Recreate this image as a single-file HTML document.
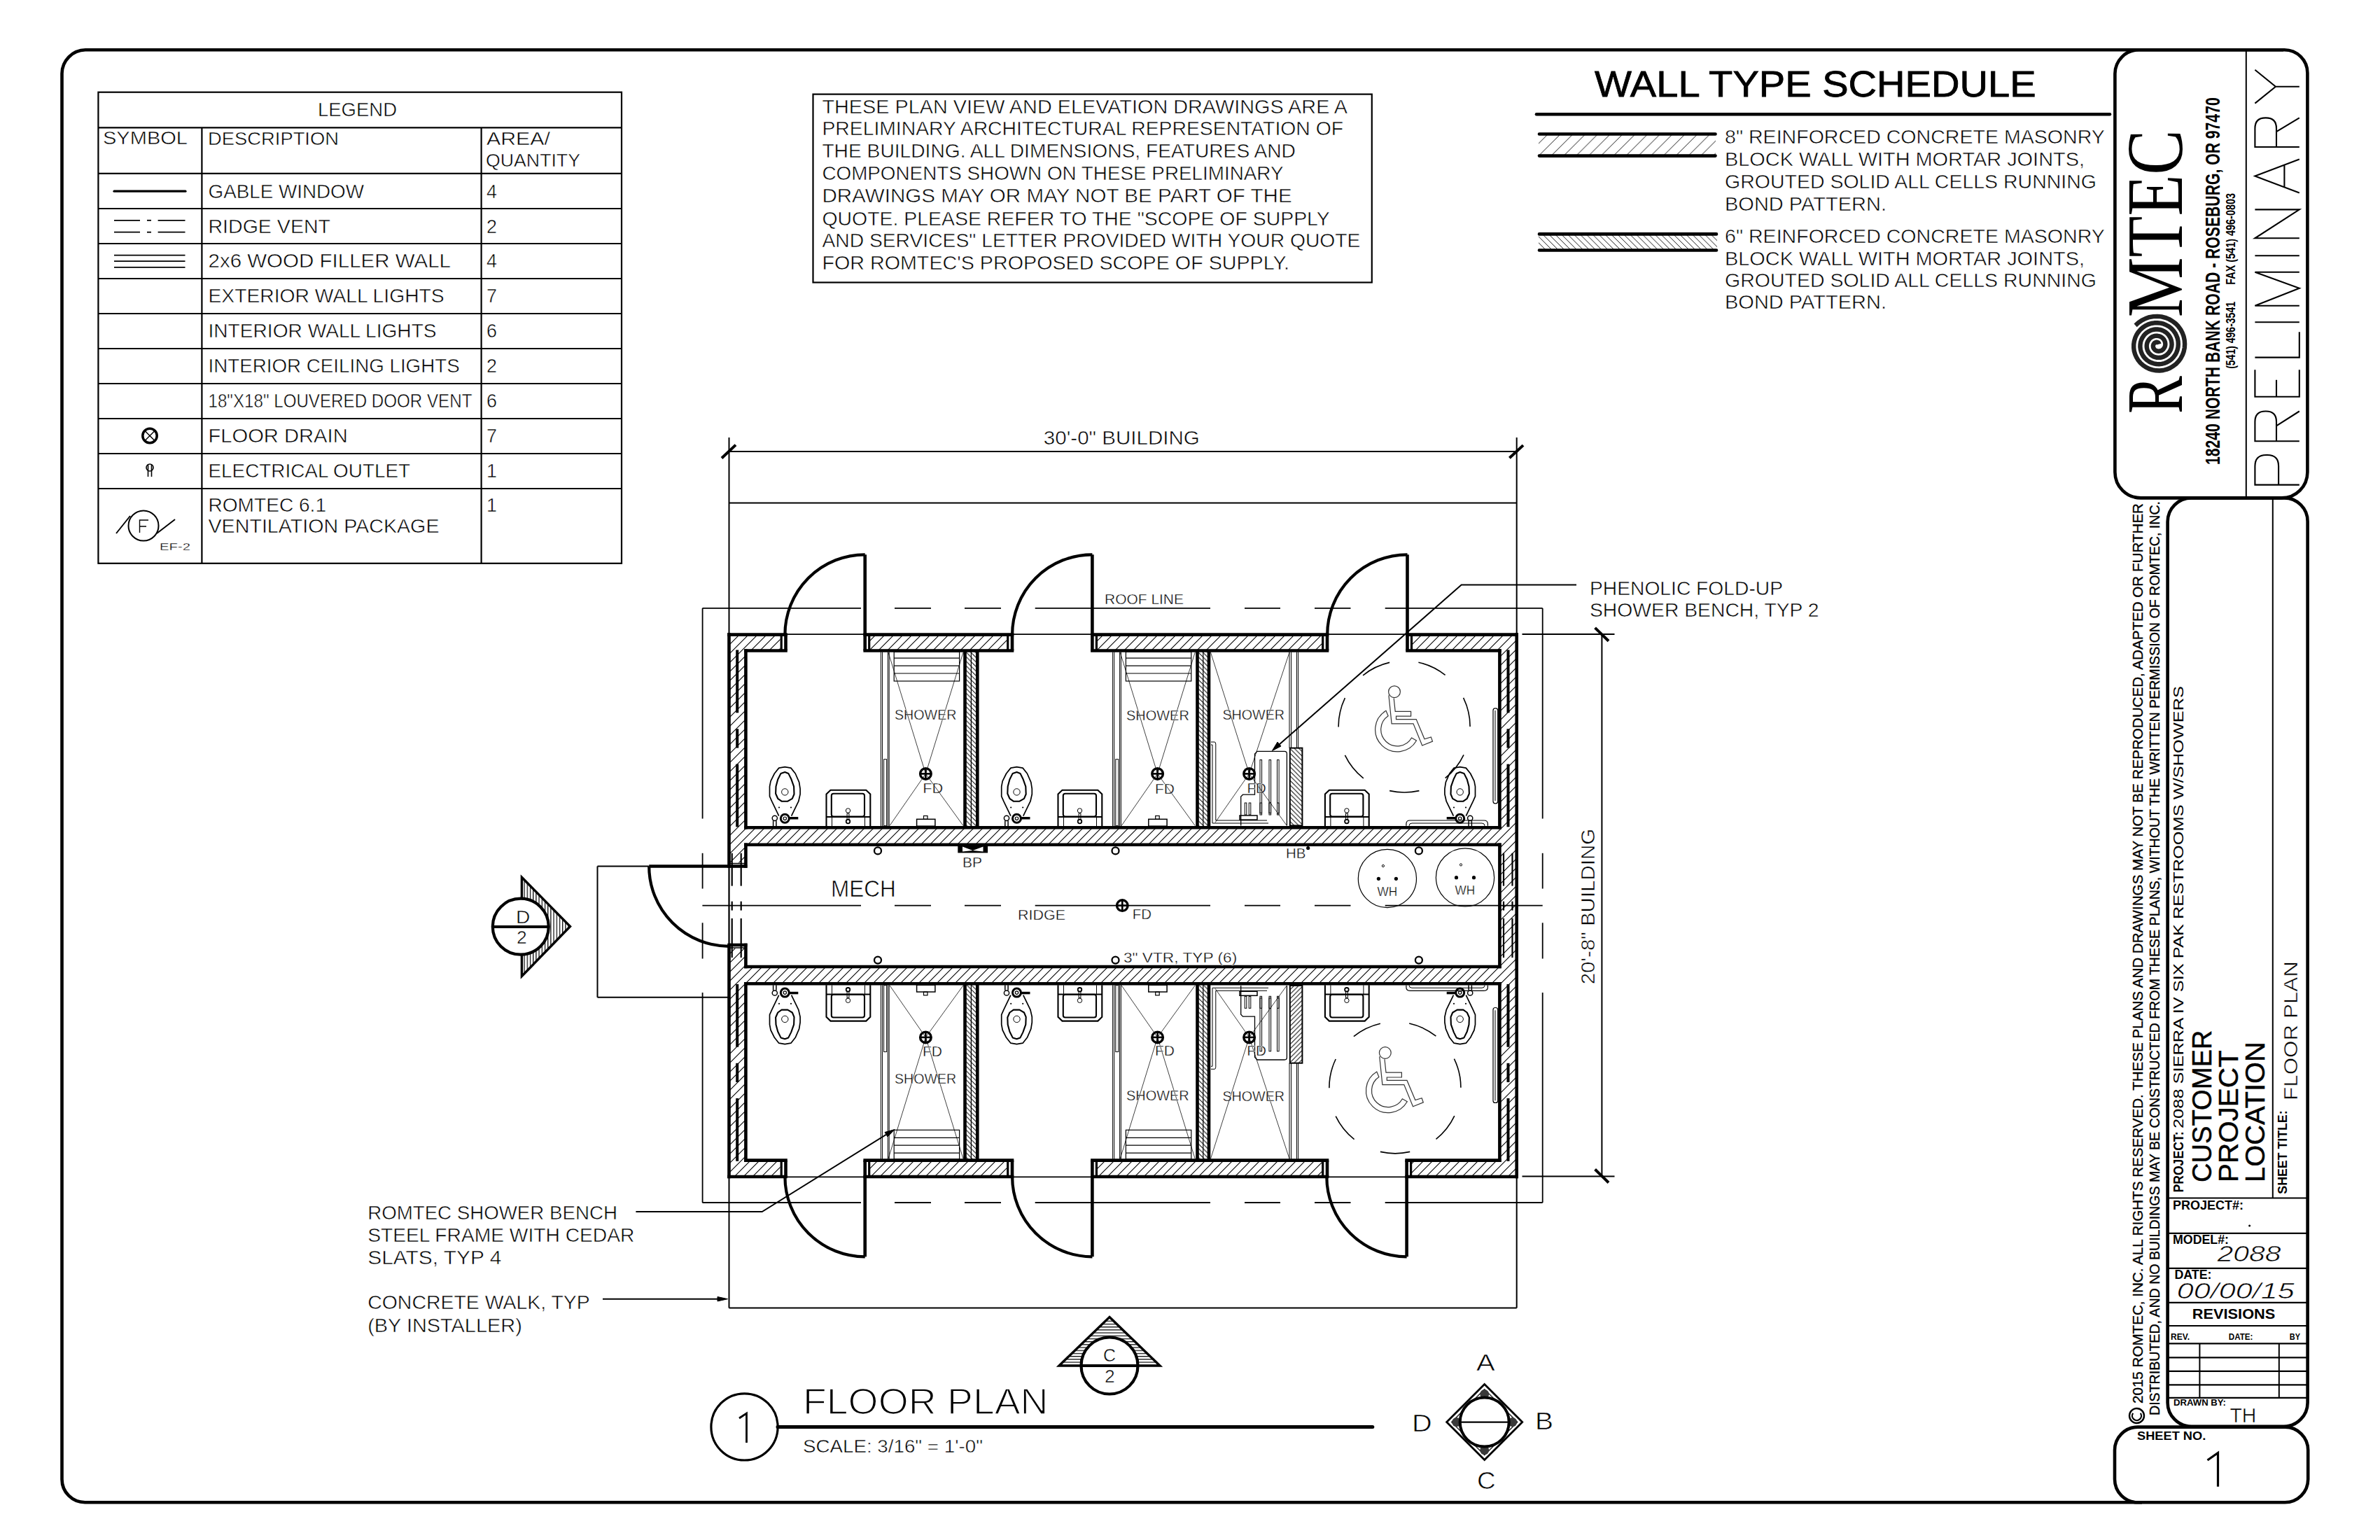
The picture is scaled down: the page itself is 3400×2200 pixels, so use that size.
<!DOCTYPE html>
<html><head><meta charset="utf-8"><title>Floor Plan</title>
<style>html,body{margin:0;padding:0;background:#fff;width:3400px;height:2200px;overflow:hidden}
text{stroke:none;fill:#000}svg{display:block;font-family:"Liberation Sans",sans-serif}</style></head>
<body><svg width="3400" height="2200" viewBox="0 0 3400 2200">
<defs>
<pattern id="h8" patternUnits="userSpaceOnUse" width="17.8" height="17.8">
<path d="M-1 18.8 L18.8 -1 M-1 1 L1 -1 M16.8 18.8 L18.8 16.8" stroke="#000" stroke-width="0.9"/></pattern>
<pattern id="h6" patternUnits="userSpaceOnUse" width="8.9" height="8.9">
<path d="M-1 -1 L9.9 9.9 M-1 7.9 L1 9.9 M7.9 -1 L9.9 1" stroke="#000" stroke-width="0.9"/></pattern>
<pattern id="hw" patternUnits="userSpaceOnUse" width="13" height="13">
<path d="M-1 14 L14 -1 M-1 1 L1 -1 M12 14 L14 12" stroke="#000" stroke-width="1.1"/></pattern>
<pattern id="hp" patternUnits="userSpaceOnUse" width="6.5" height="6.5">
<path d="M-1 -1 L7.5 7.5 M-1 5.5 L1 7.5 M5.5 -1 L7.5 1" stroke="#000" stroke-width="1"/></pattern>
<pattern id="hv" patternUnits="userSpaceOnUse" width="4.2" height="10">
<path d="M1.5 0 L1.5 10" stroke="#000" stroke-width="1.2"/></pattern>
<pattern id="hh" patternUnits="userSpaceOnUse" width="10" height="4.2">
<path d="M0 1.5 L10 1.5" stroke="#000" stroke-width="1.2"/></pattern>
</defs>
<rect x="0" y="0" width="3400" height="2200" fill="#fff"/>
<g stroke="#000" fill="none" stroke-linecap="butt">
<g class="t" stroke="none" fill="#000">
</g>
<path d="M3262 71.3 L122 71.3 A34 34 0 0 0 88.5 105 L88.5 2113 A33 33 0 0 0 122 2146.3 L3060 2146.3" stroke-width="4.6" fill="none"/>
<path d="M3055.4 71.3 L3263.4 71.3 A33 33 0 0 1 3296.4 104.3 L3296.4 674.4 A37 37 0 0 1 3259.4 711.4 L3058.4 711.4 A37 37 0 0 1 3021.4 674.4 L3021.4 105.3 A34 34 0 0 1 3055.4 71.3 Z" stroke-width="4.6" fill="none"/>
<line x1="3208.8" y1="71.3" x2="3208.8" y2="711.4" stroke-width="2"/>
<path d="M3130.6 711.4 L3263.1 711.4 A33.5 33.5 0 0 1 3296.6 744.9 L3296.6 2003.7 A34 34 0 0 1 3262.6 2037.7 L3130.6 2037.7 A34 34 0 0 1 3096.6 2003.7 L3096.6 745.4 A34 34 0 0 1 3130.6 711.4 Z" stroke-width="4.6" fill="none"/>
<path d="M3054.0 2038.6 L3264.2 2038.6 A33 33 0 0 1 3297.2 2071.6 L3297.2 2113.3 A33 33 0 0 1 3264.2 2146.3 L3054.0 2146.3 A33 33 0 0 1 3021.0 2113.3 L3021.0 2071.6 A33 33 0 0 1 3054.0 2038.6 Z" stroke-width="4.6" fill="none"/>
<rect x="140.4" y="131.7" width="747.6" height="673.1" stroke-width="2.2" fill="none"/>
<line x1="140.4" y1="182.3" x2="888.0" y2="182.3" stroke-width="2.2"/>
<line x1="140.4" y1="247.8" x2="888.0" y2="247.8" stroke-width="2.2"/>
<line x1="140.4" y1="298.0" x2="888.0" y2="298.0" stroke-width="2.2"/>
<line x1="140.4" y1="348.0" x2="888.0" y2="348.0" stroke-width="2.2"/>
<line x1="140.4" y1="398.0" x2="888.0" y2="398.0" stroke-width="2.2"/>
<line x1="140.4" y1="448.0" x2="888.0" y2="448.0" stroke-width="2.2"/>
<line x1="140.4" y1="498.0" x2="888.0" y2="498.0" stroke-width="2.2"/>
<line x1="140.4" y1="548.0" x2="888.0" y2="548.0" stroke-width="2.2"/>
<line x1="140.4" y1="598.0" x2="888.0" y2="598.0" stroke-width="2.2"/>
<line x1="140.4" y1="648.0" x2="888.0" y2="648.0" stroke-width="2.2"/>
<line x1="140.4" y1="698.0" x2="888.0" y2="698.0" stroke-width="2.2"/>
<line x1="288.4" y1="182.3" x2="288.4" y2="804.8" stroke-width="2.2"/>
<line x1="687.6" y1="182.3" x2="687.6" y2="804.8" stroke-width="2.2"/>
<text x="454.0" y="165.6" font-size="26.89" textLength="113.0" lengthAdjust="spacingAndGlyphs" style="stroke:#fff;stroke-width:0.52;">LEGEND</text>
<text x="147.0" y="206.0" font-size="25.73" textLength="121.0" lengthAdjust="spacingAndGlyphs" style="stroke:#fff;stroke-width:0.50;">SYMBOL</text>
<text x="297.0" y="207.0" font-size="26.16" textLength="187.0" lengthAdjust="spacingAndGlyphs" style="stroke:#fff;stroke-width:0.50;">DESCRIPTION</text>
<text x="695.0" y="207.0" font-size="26.16" textLength="91.0" lengthAdjust="spacingAndGlyphs" style="stroke:#fff;stroke-width:0.50;">AREA/</text>
<text x="694.0" y="238.0" font-size="26.16" textLength="135.0" lengthAdjust="spacingAndGlyphs" style="stroke:#fff;stroke-width:0.50;">QUANTITY</text>
<text x="297.5" y="282.6" font-size="26.89" textLength="222.5" lengthAdjust="spacingAndGlyphs" style="stroke:#fff;stroke-width:0.52;">GABLE WINDOW</text>
<text x="695.0" y="282.6" font-size="26.89" style="stroke:#fff;stroke-width:0.52;">4</text>
<text x="297.5" y="332.8" font-size="26.89" textLength="174.5" lengthAdjust="spacingAndGlyphs" style="stroke:#fff;stroke-width:0.52;">RIDGE VENT</text>
<text x="695.0" y="332.8" font-size="26.89" style="stroke:#fff;stroke-width:0.52;">2</text>
<text x="297.5" y="382.0" font-size="26.89" textLength="346.5" lengthAdjust="spacingAndGlyphs" style="stroke:#fff;stroke-width:0.52;">2x6 WOOD FILLER WALL</text>
<text x="695.0" y="382.0" font-size="26.89" style="stroke:#fff;stroke-width:0.52;">4</text>
<text x="297.5" y="432.0" font-size="26.89" textLength="337.2" lengthAdjust="spacingAndGlyphs" style="stroke:#fff;stroke-width:0.52;">EXTERIOR WALL LIGHTS</text>
<text x="695.0" y="432.0" font-size="26.89" style="stroke:#fff;stroke-width:0.52;">7</text>
<text x="297.5" y="481.8" font-size="26.89" textLength="326.1" lengthAdjust="spacingAndGlyphs" style="stroke:#fff;stroke-width:0.52;">INTERIOR WALL LIGHTS</text>
<text x="695.0" y="481.8" font-size="26.89" style="stroke:#fff;stroke-width:0.52;">6</text>
<text x="297.5" y="531.5" font-size="26.89" textLength="359.2" lengthAdjust="spacingAndGlyphs" style="stroke:#fff;stroke-width:0.52;">INTERIOR CEILING LIGHTS</text>
<text x="695.0" y="531.5" font-size="26.89" style="stroke:#fff;stroke-width:0.52;">2</text>
<text x="297.5" y="582.0" font-size="26.89" textLength="376.9" lengthAdjust="spacingAndGlyphs" style="stroke:#fff;stroke-width:0.52;">18&quot;X18&quot; LOUVERED DOOR VENT</text>
<text x="695.0" y="582.0" font-size="26.89" style="stroke:#fff;stroke-width:0.52;">6</text>
<text x="297.5" y="632.0" font-size="26.89" textLength="199.2" lengthAdjust="spacingAndGlyphs" style="stroke:#fff;stroke-width:0.52;">FLOOR DRAIN</text>
<text x="695.0" y="632.0" font-size="26.89" style="stroke:#fff;stroke-width:0.52;">7</text>
<text x="297.5" y="681.6" font-size="26.89" textLength="288.5" lengthAdjust="spacingAndGlyphs" style="stroke:#fff;stroke-width:0.52;">ELECTRICAL OUTLET</text>
<text x="695.0" y="681.6" font-size="26.89" style="stroke:#fff;stroke-width:0.52;">1</text>
<text x="297.5" y="731.0" font-size="26.89" textLength="168.5" lengthAdjust="spacingAndGlyphs" style="stroke:#fff;stroke-width:0.52;">ROMTEC 6.1</text>
<text x="297.5" y="760.5" font-size="26.89" textLength="330.0" lengthAdjust="spacingAndGlyphs" style="stroke:#fff;stroke-width:0.52;">VENTILATION PACKAGE</text>
<text x="695.0" y="731.0" font-size="26.89" style="stroke:#fff;stroke-width:0.52;">1</text>
<line x1="163.0" y1="273.2" x2="265.0" y2="273.2" stroke-width="3.2" stroke-linecap="round"/>
<line x1="163.0" y1="314.8" x2="200.0" y2="314.8" stroke-width="1.8"/>
<line x1="210.0" y1="314.8" x2="216.0" y2="314.8" stroke-width="1.8"/>
<line x1="225.6" y1="314.8" x2="264.5" y2="314.8" stroke-width="1.8"/>
<line x1="163.0" y1="331.7" x2="200.0" y2="331.7" stroke-width="1.8"/>
<line x1="210.0" y1="331.7" x2="216.0" y2="331.7" stroke-width="1.8"/>
<line x1="225.6" y1="331.7" x2="264.5" y2="331.7" stroke-width="1.8"/>
<line x1="163.0" y1="364.7" x2="264.5" y2="364.7" stroke-width="1.8"/>
<line x1="163.0" y1="373.2" x2="264.5" y2="373.2" stroke-width="1.8"/>
<line x1="163.0" y1="381.8" x2="264.5" y2="381.8" stroke-width="1.8"/>
<circle cx="214.0" cy="622.5" r="10.2" stroke-width="3.5" fill="none"/>
<line x1="207.5" y1="616.0" x2="220.5" y2="629.0" stroke-width="1.5"/>
<line x1="220.5" y1="616.0" x2="207.5" y2="629.0" stroke-width="1.5"/>
<circle cx="214.0" cy="668.0" r="5.0" stroke-width="1.6" fill="none"/>
<line x1="211.5" y1="663.0" x2="211.5" y2="681.0" stroke-width="1.6"/>
<line x1="216.5" y1="663.0" x2="216.5" y2="681.0" stroke-width="1.6"/>
<circle cx="205.0" cy="751.0" r="21.5" stroke-width="2" fill="none"/>
<line x1="166.0" y1="762.0" x2="186.0" y2="737.0" stroke-width="2"/>
<line x1="224.0" y1="762.0" x2="250.0" y2="742.0" stroke-width="2"/>
<path d="M212 743 L199.5 743 L199.5 761 M199.5 752 L209 752" stroke-width="1.4" fill="none"/>
<text x="228.0" y="786.0" font-size="14.53" textLength="44.0" lengthAdjust="spacingAndGlyphs" style="stroke:#fff;stroke-width:0.28;">EF-2</text>
<rect x="1161.5" y="134.6" width="798.3" height="268.9" stroke-width="2.2" fill="none"/>
<text x="1174.4" y="161.8" font-size="27.03" textLength="750.6" lengthAdjust="spacingAndGlyphs" style="stroke:#fff;stroke-width:0.52;">THESE PLAN VIEW AND ELEVATION DRAWINGS ARE A</text>
<text x="1174.4" y="193.2" font-size="27.03" textLength="744.6" lengthAdjust="spacingAndGlyphs" style="stroke:#fff;stroke-width:0.52;">PRELIMINARY ARCHITECTURAL REPRESENTATION OF</text>
<text x="1174.4" y="225.3" font-size="27.03" textLength="676.6" lengthAdjust="spacingAndGlyphs" style="stroke:#fff;stroke-width:0.52;">THE BUILDING. ALL DIMENSIONS, FEATURES AND</text>
<text x="1174.4" y="256.7" font-size="27.03" textLength="659.1" lengthAdjust="spacingAndGlyphs" style="stroke:#fff;stroke-width:0.52;">COMPONENTS SHOWN ON THESE PRELIMINARY</text>
<text x="1174.4" y="289.0" font-size="27.03" textLength="671.3" lengthAdjust="spacingAndGlyphs" style="stroke:#fff;stroke-width:0.52;">DRAWINGS MAY OR MAY NOT BE PART OF THE</text>
<text x="1174.4" y="321.6" font-size="27.03" textLength="725.4" lengthAdjust="spacingAndGlyphs" style="stroke:#fff;stroke-width:0.52;">QUOTE. PLEASE REFER TO THE &quot;SCOPE OF SUPPLY</text>
<text x="1174.4" y="353.0" font-size="27.03" textLength="769.0" lengthAdjust="spacingAndGlyphs" style="stroke:#fff;stroke-width:0.52;">AND SERVICES&quot; LETTER PROVIDED WITH YOUR QUOTE</text>
<text x="1174.4" y="385.0" font-size="27.03" textLength="667.6" lengthAdjust="spacingAndGlyphs" style="stroke:#fff;stroke-width:0.52;">FOR ROMTEC'S PROPOSED SCOPE OF SUPPLY.</text>
<text x="2278.0" y="137.9" font-size="51.89" textLength="630.6" lengthAdjust="spacingAndGlyphs" style="stroke:#000;stroke-width:0.8;">WALL TYPE SCHEDULE</text>
<line x1="2195.0" y1="163.3" x2="3014.0" y2="163.3" stroke-width="4.6" stroke-linecap="round"/>
<rect x="2198" y="192" width="253" height="30" fill="url(#h8)" stroke="none"/>
<line x1="2199.0" y1="191.5" x2="2450.5" y2="191.5" stroke-width="4.6" stroke-linecap="round"/>
<line x1="2199.0" y1="222.6" x2="2450.5" y2="222.6" stroke-width="4.6" stroke-linecap="round"/>
<rect x="2198" y="335" width="255" height="21" fill="url(#h6)" stroke="none"/>
<line x1="2199.0" y1="334.4" x2="2452.0" y2="334.4" stroke-width="4.6" stroke-linecap="round"/>
<line x1="2199.0" y1="357.5" x2="2452.0" y2="357.5" stroke-width="4.6" stroke-linecap="round"/>
<text x="2464.0" y="205.0" font-size="27.03" textLength="542.8" lengthAdjust="spacingAndGlyphs" style="stroke:#fff;stroke-width:0.52;">8&quot; REINFORCED CONCRETE MASONRY</text>
<text x="2464.0" y="237.0" font-size="27.03" textLength="514.0" lengthAdjust="spacingAndGlyphs" style="stroke:#fff;stroke-width:0.52;">BLOCK WALL WITH MORTAR JOINTS,</text>
<text x="2464.0" y="268.6" font-size="27.03" textLength="531.0" lengthAdjust="spacingAndGlyphs" style="stroke:#fff;stroke-width:0.52;">GROUTED SOLID ALL CELLS RUNNING</text>
<text x="2464.0" y="300.7" font-size="27.03" textLength="231.0" lengthAdjust="spacingAndGlyphs" style="stroke:#fff;stroke-width:0.52;">BOND PATTERN.</text>
<text x="2464.0" y="347.0" font-size="27.03" textLength="542.8" lengthAdjust="spacingAndGlyphs" style="stroke:#fff;stroke-width:0.52;">6&quot; REINFORCED CONCRETE MASONRY</text>
<text x="2464.0" y="379.3" font-size="27.03" textLength="514.0" lengthAdjust="spacingAndGlyphs" style="stroke:#fff;stroke-width:0.52;">BLOCK WALL WITH MORTAR JOINTS,</text>
<text x="2464.0" y="410.4" font-size="27.03" textLength="531.0" lengthAdjust="spacingAndGlyphs" style="stroke:#fff;stroke-width:0.52;">GROUTED SOLID ALL CELLS RUNNING</text>
<text x="2464.0" y="441.4" font-size="27.03" textLength="231.0" lengthAdjust="spacingAndGlyphs" style="stroke:#fff;stroke-width:0.52;">BOND PATTERN.</text>
<text x="3117.5" y="590.8" font-size="113.74" textLength="53.6" lengthAdjust="spacingAndGlyphs" transform="rotate(-90 3117.5 590.8)" font-family="Liberation Serif">R</text>
<text x="3117.5" y="453.3" font-size="113.74" textLength="268.0" lengthAdjust="spacingAndGlyphs" transform="rotate(-90 3117.5 453.3)" font-family="Liberation Serif">MTEC</text>
<path d="M3084.4 491.6 L3084.3 491.2 L3084.2 490.8 L3083.9 490.3 L3083.6 490.0 L3083.3 489.6 L3082.8 489.3 L3082.3 489.1 L3081.7 488.9 L3081.1 488.8 L3080.4 488.8 L3079.7 489.0 L3079.1 489.2 L3078.4 489.6 L3077.8 490.0 L3077.3 490.6 L3076.8 491.2 L3076.4 492.0 L3076.1 492.8 L3075.9 493.7 L3075.9 494.6 L3076.0 495.6 L3076.2 496.6 L3076.6 497.5 L3077.2 498.4 L3077.8 499.2 L3078.6 500.0 L3079.6 500.6 L3080.6 501.1 L3081.8 501.5 L3083.0 501.7 L3084.2 501.7 L3085.5 501.5 L3086.7 501.2 L3088.0 500.7 L3089.1 500.0 L3090.2 499.1 L3091.1 498.0 L3091.9 496.8 L3092.6 495.5 L3093.0 494.1 L3093.3 492.5 L3093.3 491.0 L3093.1 489.4 L3092.7 487.8 L3092.0 486.3 L3091.2 484.9 L3090.1 483.6 L3088.8 482.4 L3087.4 481.4 L3085.8 480.6 L3084.0 480.1 L3082.2 479.8 L3080.3 479.7 L3078.4 479.9 L3076.6 480.4 L3074.8 481.1 L3073.0 482.1 L3071.5 483.4 L3070.1 484.9 L3068.9 486.6 L3067.9 488.4 L3067.2 490.4 L3066.8 492.6 L3066.7 494.7 L3066.9 497.0 L3067.4 499.1 L3068.2 501.3 L3069.3 503.3 L3070.7 505.1 L3072.4 506.8 L3074.3 508.2 L3076.5 509.4 L3078.8 510.2 L3081.2 510.8 L3083.7 510.9 L3086.2 510.8 L3088.7 510.3 L3091.1 509.4 L3093.5 508.2 L3095.6 506.6 L3097.5 504.7 L3099.2 502.6 L3100.6 500.2 L3101.6 497.7 L3102.3 495.0 L3102.6 492.2 L3102.4 489.3 L3101.9 486.5 L3101.0 483.7 L3099.7 481.1 L3098.0 478.6 L3096.0 476.4 L3093.7 474.5 L3091.1 472.9 L3088.3 471.7 L3085.3 470.9 L3082.2 470.5 L3079.0 470.5 L3075.8 471.0 L3072.7 471.9 L3069.8 473.3 L3067.0 475.0 L3064.5 477.2 L3062.3 479.7 L3060.5 482.5 L3059.0 485.6 L3058.0 488.9 L3057.5 492.3 L3057.4 495.8 L3057.9 499.3 L3058.8 502.7 L3060.2 506.0 L3062.0 509.1 L3064.3 511.9 L3067.0 514.4 L3070.0 516.5 L3073.3 518.1 L3076.9 519.3 L3080.6 520.0 L3084.4 520.2 L3088.2 519.9 L3091.9 519.0 L3095.6 517.6 L3099.0 515.6 L3102.1 513.3 L3104.9 510.4 L3107.3 507.2 L3109.2 503.7 L3110.6 499.9 L3111.5 495.9 L3111.8 491.8 L3111.6 487.6 L3110.8 483.5 L3109.3 479.6 L3107.4 475.8 L3104.9 472.4 L3102.0 469.3 L3098.6 466.6 L3094.8 464.4 L3090.8 462.7 L3086.5 461.6 L3082.1 461.2 L3077.6 461.3 L3073.2 462.0 L3068.9 463.4 L3064.8 465.4 L3061.0 468.0 L3057.6 471.0 L3054.6 474.6 L3052.1 478.5 L3050.2 482.8 L3048.9 487.3 L3048.2 492.0 L3048.2 496.8 L3048.8 501.6 L3050.2 506.2 L3052.2 510.7 L3054.7 514.8 L3057.9 518.6 L3061.6 521.9 L3065.7 524.7 L3070.2 526.9 L3075.0 528.4 L3080.0 529.3 L3085.1 529.5 L3090.2 529.0 L3095.2 527.7 L3100.0 525.7 L3104.5 523.1 L3108.6 519.9 L3112.3 516.1 L3115.4 511.8 L3117.9 507.1 L3119.7 502.1 L3120.8 496.8 L3121.1 491.4 L3120.7 486.0 L3119.6 480.6 L3117.7 475.5 L3115.1 470.6 L3111.8 466.1 L3107.9 462.1 L3103.4 458.7 L3098.5 455.9 L3093.3 453.8 L3087.7 452.4 L3082.0 451.9 L3076.3 452.1 L3070.6 453.1 L3065.1 455.0 L3059.8 457.6 L3055.0 460.9 L3050.6 464.8" stroke-width="6.4" fill="none" stroke="#222" stroke-linejoin="round"/>
<text x="3171.2" y="664.0" font-size="29.51" textLength="524.7" lengthAdjust="spacingAndGlyphs" transform="rotate(-90 3171.2 664.0)" font-weight="bold">18240 NORTH BANK ROAD - ROSEBURG, OR 97470</text>
<text x="3193.2" y="526.8" font-size="19.19" textLength="95.8" lengthAdjust="spacingAndGlyphs" transform="rotate(-90 3193.2 526.8)" font-weight="bold">(541) 496-3541</text>
<text x="3193.2" y="406.8" font-size="19.19" textLength="130.8" lengthAdjust="spacingAndGlyphs" transform="rotate(-90 3193.2 406.8)" font-weight="bold">FAX (541) 496-0803</text>
<path d="M3284.8 692.6 L3221.4 692.6 L3221.4 666.0 Q3221.4 650.0 3237.4 650.0 L3239.1 650.0 Q3255.1 650.0 3255.1 666.0 L3255.1 692.6 M3284.8 630.2 L3221.4 630.2 L3221.4 602.5 Q3221.4 587.5 3236.4 587.5 L3237.0 587.5 Q3252.0 587.5 3252.0 602.5 L3252.0 630.2 M3252.0 608.3 L3284.8 587.5 M3221.4 528.3 L3221.4 566.7 L3284.8 566.7 L3284.8 528.3 M3252.0 566.7 L3252.0 542.8 M3221.4 510.6 L3284.8 510.6 L3284.8 474.2 M3221.4 460.3 L3284.8 460.3 M3284.8 436.8 L3221.4 436.8 L3284.8 411.8 L3221.4 388.8 L3284.8 388.8 M3221.4 365.3 L3284.8 365.3 M3284.8 340.3 L3221.4 340.3 L3284.8 299.4 L3221.4 299.4 M3284.8 275.5 L3221.4 251.6 L3284.8 227.6 M3263.4 268.1 L3263.4 235.1 M3284.8 210.0 L3221.4 210.0 L3221.4 183.4 Q3221.4 168.4 3236.4 168.4 L3237.0 168.4 Q3252.0 168.4 3252.0 183.4 L3252.0 210.0 M3252.0 188.1 L3284.8 168.4 M3221.4 147.6 L3250.9 123.7 L3221.4 99.8 M3250.9 123.7 L3284.8 123.7" stroke-width="2.1" fill="none" stroke-linejoin="miter"/>
<circle cx="3052.5" cy="2022.5" r="10.5" stroke-width="2.4" fill="none"/>
<path d="M3047.2 2018.8 A6.5 6.5 0 1 0 3057.8 2018.8" stroke-width="2.2" fill="none"/>
<text x="3061.0" y="2005.0" font-size="19.62" textLength="1286.0" lengthAdjust="spacingAndGlyphs" transform="rotate(-90 3061.0 2005.0)" style="stroke:#000;stroke-width:0.35;">2015 ROMTEC, INC.  ALL RIGHTS RESERVED.  THESE PLANS AND DRAWINGS MAY NOT BE REPRODUCED, ADAPTED OR FURTHER</text>
<text x="3084.5" y="2022.0" font-size="19.62" textLength="1306.0" lengthAdjust="spacingAndGlyphs" transform="rotate(-90 3084.5 2022.0)" style="stroke:#000;stroke-width:0.35;">DISTRIBUTED, AND NO BUILDINGS MAY BE CONSTRUCTED FROM THESE PLANS, WITHOUT THE WRITTEN PERMISSION OF ROMTEC, INC.</text>
<line x1="3246.8" y1="711.4" x2="3246.8" y2="1711.5" stroke-width="2"/>
<text x="3119.4" y="1703.5" font-size="20.35" textLength="87.0" lengthAdjust="spacingAndGlyphs" transform="rotate(-90 3119.4 1703.5)" font-weight="bold">PROJECT:</text>
<text x="3119.4" y="1612.0" font-size="20.35" textLength="632.0" lengthAdjust="spacingAndGlyphs" transform="rotate(-90 3119.4 1612.0)">2088 SIERRA IV SIX PAK RESTROOMS W/SHOWERS</text>
<text x="3159.2" y="1689.0" font-size="39.24" textLength="217.4" lengthAdjust="spacingAndGlyphs" transform="rotate(-90 3159.2 1689.0)" style="stroke:#000;stroke-width:0.5;">CUSTOMER</text>
<text x="3196.7" y="1689.0" font-size="39.24" textLength="188.7" lengthAdjust="spacingAndGlyphs" transform="rotate(-90 3196.7 1689.0)" style="stroke:#000;stroke-width:0.5;">PROJECT</text>
<text x="3235.3" y="1689.0" font-size="38.52" textLength="200.8" lengthAdjust="spacingAndGlyphs" transform="rotate(-90 3235.3 1689.0)" style="stroke:#000;stroke-width:0.5;">LOCATION</text>
<text x="3267.4" y="1705.7" font-size="17.73" textLength="119.3" lengthAdjust="spacingAndGlyphs" transform="rotate(-90 3267.4 1705.7)" font-weight="bold">SHEET TITLE:</text>
<text x="3281.7" y="1572.0" font-size="27.18" textLength="199.0" lengthAdjust="spacingAndGlyphs" transform="rotate(-90 3281.7 1572.0)" style="stroke:#fff;stroke-width:0.52;">FLOOR PLAN</text>
<line x1="3096.6" y1="1711.5" x2="3296.6" y2="1711.5" stroke-width="2.2"/>
<line x1="3096.6" y1="1761.8" x2="3296.6" y2="1761.8" stroke-width="2.2"/>
<line x1="3096.6" y1="1811.8" x2="3296.6" y2="1811.8" stroke-width="2.2"/>
<line x1="3096.6" y1="1860.9" x2="3296.6" y2="1860.9" stroke-width="2.2"/>
<line x1="3096.6" y1="1894.0" x2="3296.6" y2="1894.0" stroke-width="2.2"/>
<line x1="3096.6" y1="1919.3" x2="3296.6" y2="1919.3" stroke-width="2.2"/>
<line x1="3096.6" y1="1939.3" x2="3296.6" y2="1939.3" stroke-width="2.2"/>
<line x1="3096.6" y1="1958.8" x2="3296.6" y2="1958.8" stroke-width="2.2"/>
<line x1="3096.6" y1="1978.3" x2="3296.6" y2="1978.3" stroke-width="2.2"/>
<line x1="3096.6" y1="1996.8" x2="3296.6" y2="1996.8" stroke-width="2.2"/>
<line x1="3142.4" y1="1919.3" x2="3142.4" y2="1996.8" stroke-width="2"/>
<line x1="3255.8" y1="1919.3" x2="3255.8" y2="1996.8" stroke-width="2"/>
<text x="3104.0" y="1727.6" font-size="17.44" textLength="101.0" lengthAdjust="spacingAndGlyphs" font-weight="bold">PROJECT#:</text>
<circle cx="3213.6" cy="1751.0" r="1.5" stroke-width="0" fill="#000"/>
<text x="3104.0" y="1777.0" font-size="17.44" textLength="80.0" lengthAdjust="spacingAndGlyphs" font-weight="bold">MODEL#:</text>
<text x="3167.5" y="1802.0" font-size="31.69" textLength="91.0" lengthAdjust="spacingAndGlyphs" font-style="italic" style="stroke:#fff;stroke-width:0.61;">2088</text>
<text x="3106.5" y="1827.0" font-size="17.44" textLength="53.0" lengthAdjust="spacingAndGlyphs" font-weight="bold">DATE:</text>
<text x="3109.7" y="1855.0" font-size="31.10" textLength="168.0" lengthAdjust="spacingAndGlyphs" font-style="italic" style="stroke:#fff;stroke-width:0.60;">00/00/15</text>
<text x="3131.8" y="1884.4" font-size="20.35" textLength="118.5" lengthAdjust="spacingAndGlyphs" font-weight="bold">REVISIONS</text>
<text x="3101.0" y="1914.3" font-size="12.79" textLength="27.0" lengthAdjust="spacingAndGlyphs" font-weight="bold">REV.</text>
<text x="3183.8" y="1914.3" font-size="12.79" textLength="34.7" lengthAdjust="spacingAndGlyphs" font-weight="bold">DATE:</text>
<text x="3270.8" y="1914.3" font-size="12.79" textLength="15.2" lengthAdjust="spacingAndGlyphs" font-weight="bold">BY</text>
<text x="3105.0" y="2007.8" font-size="12.21" textLength="75.0" lengthAdjust="spacingAndGlyphs" font-weight="bold">DRAWN BY:</text>
<text x="3185.4" y="2031.8" font-size="29.07" textLength="38.0" lengthAdjust="spacingAndGlyphs" style="stroke:#fff;stroke-width:0.56;">TH</text>
<text x="3053.0" y="2057.0" font-size="16.57" textLength="98.3" lengthAdjust="spacingAndGlyphs" font-weight="bold">SHEET NO.</text>
<path d="M3153.5 2086 L3168.5 2075.5 L3168.5 2123.7" stroke-width="3.2" fill="none" stroke-linejoin="miter"/>
<rect x="1041.5" y="906.6" width="1125.2" height="774.4" fill="url(#hw)" stroke="none"/>
<rect x="1065.4" y="929.5" width="1077.0" height="252.7" stroke-width="0" fill="#fff" stroke="none"/>
<rect x="1065.4" y="1206.7" width="1077.0" height="174.3" stroke-width="0" fill="#fff" stroke="none"/>
<rect x="1065.4" y="1405.3" width="1077.0" height="252.3" stroke-width="0" fill="#fff" stroke="none"/>
<rect x="1378.5" y="929.5" width="17.8" height="252.7" fill="url(#hp)" stroke="none"/>
<rect x="1378.5" y="1405.3" width="17.8" height="252.3" fill="url(#hp)" stroke="none"/>
<rect x="1710.5" y="929.5" width="16.5" height="252.7" fill="url(#hp)" stroke="none"/>
<rect x="1710.5" y="1405.3" width="16.5" height="252.3" fill="url(#hp)" stroke="none"/>
<rect x="1114.5" y="903.6" width="128.2" height="28.9" stroke-width="0" fill="#fff" stroke="none"/>
<rect x="1438.0" y="903.6" width="129.4" height="28.9" stroke-width="0" fill="#fff" stroke="none"/>
<rect x="1888.0" y="903.6" width="129.5" height="28.9" stroke-width="0" fill="#fff" stroke="none"/>
<rect x="1114.5" y="1654.6" width="128.2" height="29.4" stroke-width="0" fill="#fff" stroke="none"/>
<rect x="1438.0" y="1654.6" width="129.4" height="29.4" stroke-width="0" fill="#fff" stroke="none"/>
<rect x="1888.0" y="1654.6" width="128.6" height="29.4" stroke-width="0" fill="#fff" stroke="none"/>
<rect x="1038.5" y="1232.5" width="29.9" height="122.5" stroke-width="0" fill="#fff" stroke="none"/>
<line x1="1041.5" y1="906.6" x2="1122.5" y2="906.6" stroke-width="4.6" stroke-linecap="square"/>
<line x1="1235.7" y1="906.6" x2="1446.0" y2="906.6" stroke-width="4.6" stroke-linecap="square"/>
<line x1="1560.4" y1="906.6" x2="1896.0" y2="906.6" stroke-width="4.6" stroke-linecap="square"/>
<line x1="2010.5" y1="906.6" x2="2166.7" y2="906.6" stroke-width="4.6" stroke-linecap="square"/>
<line x1="1041.5" y1="1681.0" x2="1122.5" y2="1681.0" stroke-width="4.6" stroke-linecap="square"/>
<line x1="1235.7" y1="1681.0" x2="1446.0" y2="1681.0" stroke-width="4.6" stroke-linecap="square"/>
<line x1="1560.4" y1="1681.0" x2="1896.0" y2="1681.0" stroke-width="4.6" stroke-linecap="square"/>
<line x1="2009.6" y1="1681.0" x2="2166.7" y2="1681.0" stroke-width="4.6" stroke-linecap="square"/>
<line x1="1065.4" y1="929.5" x2="1122.5" y2="929.5" stroke-width="4.6" stroke-linecap="square"/>
<line x1="1235.7" y1="929.5" x2="1446.0" y2="929.5" stroke-width="4.6" stroke-linecap="square"/>
<line x1="1560.4" y1="929.5" x2="1896.0" y2="929.5" stroke-width="4.6" stroke-linecap="square"/>
<line x1="2010.5" y1="929.5" x2="2142.4" y2="929.5" stroke-width="4.6" stroke-linecap="square"/>
<line x1="1065.4" y1="1657.6" x2="1122.5" y2="1657.6" stroke-width="4.6" stroke-linecap="square"/>
<line x1="1235.7" y1="1657.6" x2="1446.0" y2="1657.6" stroke-width="4.6" stroke-linecap="square"/>
<line x1="1560.4" y1="1657.6" x2="1896.0" y2="1657.6" stroke-width="4.6" stroke-linecap="square"/>
<line x1="2009.6" y1="1657.6" x2="2142.4" y2="1657.6" stroke-width="4.6" stroke-linecap="square"/>
<line x1="1041.5" y1="906.6" x2="1041.5" y2="1237.5" stroke-width="4.6" stroke-linecap="square"/>
<line x1="1041.5" y1="1350.0" x2="1041.5" y2="1681.0" stroke-width="4.6" stroke-linecap="square"/>
<line x1="2166.7" y1="906.6" x2="2166.7" y2="1681.0" stroke-width="4.6" stroke-linecap="square"/>
<line x1="1065.4" y1="929.5" x2="1065.4" y2="1182.2" stroke-width="4.6" stroke-linecap="square"/>
<line x1="1065.4" y1="1206.7" x2="1065.4" y2="1237.5" stroke-width="4.6" stroke-linecap="square"/>
<line x1="1065.4" y1="1350.0" x2="1065.4" y2="1381.0" stroke-width="4.6" stroke-linecap="square"/>
<line x1="1065.4" y1="1405.3" x2="1065.4" y2="1657.6" stroke-width="4.6" stroke-linecap="square"/>
<line x1="2142.4" y1="929.5" x2="2142.4" y2="1182.2" stroke-width="4.6" stroke-linecap="square"/>
<line x1="2142.4" y1="1206.7" x2="2142.4" y2="1381.0" stroke-width="4.6" stroke-linecap="square"/>
<line x1="2142.4" y1="1405.3" x2="2142.4" y2="1657.6" stroke-width="4.6" stroke-linecap="square"/>
<line x1="1065.4" y1="1182.2" x2="2142.4" y2="1182.2" stroke-width="4.6" stroke-linecap="square"/>
<line x1="1065.4" y1="1206.7" x2="2142.4" y2="1206.7" stroke-width="4.6" stroke-linecap="square"/>
<line x1="1065.4" y1="1381.0" x2="2142.4" y2="1381.0" stroke-width="4.6" stroke-linecap="square"/>
<line x1="1065.4" y1="1405.3" x2="2142.4" y2="1405.3" stroke-width="4.6" stroke-linecap="square"/>
<line x1="1122.5" y1="906.6" x2="1122.5" y2="929.5" stroke-width="4.6"/>
<line x1="1116.2" y1="906.6" x2="1116.2" y2="929.5" stroke-width="3.2"/>
<line x1="1235.7" y1="906.6" x2="1235.7" y2="929.5" stroke-width="4.6"/>
<line x1="1241.7" y1="906.6" x2="1241.7" y2="929.5" stroke-width="3.2"/>
<line x1="1122.5" y1="906.2" x2="1235.7" y2="906.2" stroke-width="1.8"/>
<line x1="1446.0" y1="906.6" x2="1446.0" y2="929.5" stroke-width="4.6"/>
<line x1="1439.7" y1="906.6" x2="1439.7" y2="929.5" stroke-width="3.2"/>
<line x1="1560.4" y1="906.6" x2="1560.4" y2="929.5" stroke-width="4.6"/>
<line x1="1566.4" y1="906.6" x2="1566.4" y2="929.5" stroke-width="3.2"/>
<line x1="1446.0" y1="906.2" x2="1560.4" y2="906.2" stroke-width="1.8"/>
<line x1="1896.0" y1="906.6" x2="1896.0" y2="929.5" stroke-width="4.6"/>
<line x1="1889.7" y1="906.6" x2="1889.7" y2="929.5" stroke-width="3.2"/>
<line x1="2010.5" y1="906.6" x2="2010.5" y2="929.5" stroke-width="4.6"/>
<line x1="2016.5" y1="906.6" x2="2016.5" y2="929.5" stroke-width="3.2"/>
<line x1="1896.0" y1="906.2" x2="2010.5" y2="906.2" stroke-width="1.8"/>
<line x1="1122.5" y1="1657.6" x2="1122.5" y2="1681.0" stroke-width="4.6"/>
<line x1="1116.2" y1="1657.6" x2="1116.2" y2="1681.0" stroke-width="3.2"/>
<line x1="1235.7" y1="1657.6" x2="1235.7" y2="1681.0" stroke-width="4.6"/>
<line x1="1241.7" y1="1657.6" x2="1241.7" y2="1681.0" stroke-width="3.2"/>
<line x1="1122.5" y1="1681.4" x2="1235.7" y2="1681.4" stroke-width="1.8"/>
<line x1="1446.0" y1="1657.6" x2="1446.0" y2="1681.0" stroke-width="4.6"/>
<line x1="1439.7" y1="1657.6" x2="1439.7" y2="1681.0" stroke-width="3.2"/>
<line x1="1560.4" y1="1657.6" x2="1560.4" y2="1681.0" stroke-width="4.6"/>
<line x1="1566.4" y1="1657.6" x2="1566.4" y2="1681.0" stroke-width="3.2"/>
<line x1="1446.0" y1="1681.4" x2="1560.4" y2="1681.4" stroke-width="1.8"/>
<line x1="1896.0" y1="1657.6" x2="1896.0" y2="1681.0" stroke-width="4.6"/>
<line x1="1889.7" y1="1657.6" x2="1889.7" y2="1681.0" stroke-width="3.2"/>
<line x1="2009.6" y1="1657.6" x2="2009.6" y2="1681.0" stroke-width="4.6"/>
<line x1="2015.6" y1="1657.6" x2="2015.6" y2="1681.0" stroke-width="3.2"/>
<line x1="1896.0" y1="1681.4" x2="2009.6" y2="1681.4" stroke-width="1.8"/>
<line x1="1041.5" y1="1237.5" x2="1067.4" y2="1237.5" stroke-width="4.6"/>
<line x1="1041.5" y1="1233.5" x2="1065.4" y2="1233.5" stroke-width="1.5"/>
<line x1="1041.5" y1="1350.0" x2="1067.4" y2="1350.0" stroke-width="4.6"/>
<line x1="1041.5" y1="1354.0" x2="1065.4" y2="1354.0" stroke-width="1.5"/>
<line x1="1041.5" y1="1237.5" x2="1041.5" y2="1350.0" stroke-width="1.5"/>
<line x1="1378.5" y1="929.5" x2="1378.5" y2="1182.2" stroke-width="4.6"/>
<line x1="1396.3" y1="929.5" x2="1396.3" y2="1182.2" stroke-width="4.6"/>
<line x1="1387.4" y1="929.5" x2="1387.4" y2="1182.2" stroke-width="1.2"/>
<line x1="1378.5" y1="1405.3" x2="1378.5" y2="1657.6" stroke-width="4.6"/>
<line x1="1396.3" y1="1405.3" x2="1396.3" y2="1657.6" stroke-width="4.6"/>
<line x1="1387.4" y1="1405.3" x2="1387.4" y2="1657.6" stroke-width="1.2"/>
<line x1="1710.5" y1="929.5" x2="1710.5" y2="1182.2" stroke-width="4.6"/>
<line x1="1727.0" y1="929.5" x2="1727.0" y2="1182.2" stroke-width="4.6"/>
<line x1="1718.8" y1="929.5" x2="1718.8" y2="1182.2" stroke-width="1.2"/>
<line x1="1710.5" y1="1405.3" x2="1710.5" y2="1657.6" stroke-width="4.6"/>
<line x1="1727.0" y1="1405.3" x2="1727.0" y2="1657.6" stroke-width="4.6"/>
<line x1="1718.8" y1="1405.3" x2="1718.8" y2="1657.6" stroke-width="1.2"/>
<line x1="1053.2" y1="928.5" x2="1053.2" y2="1018.3" stroke-width="4"/>
<line x1="1053.2" y1="1041.3" x2="1053.2" y2="1068.5" stroke-width="4"/>
<line x1="1053.2" y1="1091.6" x2="1053.2" y2="1181.3" stroke-width="4"/>
<line x1="1053.2" y1="1569.0" x2="1053.2" y2="1658.8" stroke-width="4"/>
<line x1="1053.2" y1="1518.8" x2="1053.2" y2="1546.0" stroke-width="4"/>
<line x1="1053.2" y1="1406.0" x2="1053.2" y2="1495.7" stroke-width="4"/>
<line x1="2154.5" y1="928.5" x2="2154.5" y2="1018.3" stroke-width="4"/>
<line x1="2154.5" y1="1041.3" x2="2154.5" y2="1068.5" stroke-width="4"/>
<line x1="2154.5" y1="1091.6" x2="2154.5" y2="1181.3" stroke-width="4"/>
<line x1="2154.5" y1="1569.0" x2="2154.5" y2="1658.8" stroke-width="4"/>
<line x1="2154.5" y1="1518.8" x2="2154.5" y2="1546.0" stroke-width="4"/>
<line x1="2154.5" y1="1406.0" x2="2154.5" y2="1495.7" stroke-width="4"/>
<line x1="1045.7" y1="1218.8" x2="1045.7" y2="1265.6" stroke-width="2.2"/>
<line x1="1045.7" y1="1287.7" x2="1045.7" y2="1300.6" stroke-width="2.2"/>
<line x1="1045.7" y1="1312.0" x2="1045.7" y2="1368.0" stroke-width="2.2"/>
<line x1="1058.7" y1="1218.8" x2="1058.7" y2="1265.6" stroke-width="2.2"/>
<line x1="1058.7" y1="1287.7" x2="1058.7" y2="1300.6" stroke-width="2.2"/>
<line x1="1058.7" y1="1312.0" x2="1058.7" y2="1368.0" stroke-width="2.2"/>
<line x1="2148.0" y1="1218.8" x2="2148.0" y2="1265.6" stroke-width="2.2"/>
<line x1="2148.0" y1="1287.7" x2="2148.0" y2="1300.6" stroke-width="2.2"/>
<line x1="2148.0" y1="1312.0" x2="2148.0" y2="1368.0" stroke-width="2.2"/>
<line x1="2160.5" y1="1218.8" x2="2160.5" y2="1265.6" stroke-width="2.2"/>
<line x1="2160.5" y1="1287.7" x2="2160.5" y2="1300.6" stroke-width="2.2"/>
<line x1="2160.5" y1="1312.0" x2="2160.5" y2="1368.0" stroke-width="2.2"/>
<line x1="1235.7" y1="906.6" x2="1235.7" y2="792.3" stroke-width="4.6"/>
<path d="M1121.4 906.6 A114.3 114.3 0 0 1 1235.7 792.3" stroke-width="4.2" fill="none"/>
<line x1="1560.4" y1="906.6" x2="1560.4" y2="792.3" stroke-width="4.6"/>
<path d="M1446.1 906.6 A114.3 114.3 0 0 1 1560.4 792.3" stroke-width="4.2" fill="none"/>
<line x1="2010.5" y1="906.6" x2="2010.5" y2="792.3" stroke-width="4.6"/>
<path d="M1896.2 906.6 A114.3 114.3 0 0 1 2010.5 792.3" stroke-width="4.2" fill="none"/>
<line x1="1235.7" y1="1681.0" x2="1235.7" y2="1795.3" stroke-width="4.6"/>
<path d="M1121.4 1681.0 A114.3 114.3 0 0 0 1235.7 1795.3" stroke-width="4.2" fill="none"/>
<line x1="1560.4" y1="1681.0" x2="1560.4" y2="1795.3" stroke-width="4.6"/>
<path d="M1446.1 1681.0 A114.3 114.3 0 0 0 1560.4 1795.3" stroke-width="4.2" fill="none"/>
<line x1="2009.6" y1="1681.0" x2="2009.6" y2="1795.3" stroke-width="4.6"/>
<path d="M1895.3 1681.0 A114.3 114.3 0 0 0 2009.6 1795.3" stroke-width="4.2" fill="none"/>
<line x1="1041.5" y1="1237.5" x2="927.2" y2="1237.5" stroke-width="4.6"/>
<path d="M927.2 1237.5 A114.3 114.3 0 0 0 1041.5 1351.8" stroke-width="4.2" fill="none"/>
<path d="M2100.1 1038.0 A94.0 94.0 0 0 0 2090.6 996.8" stroke-width="1.6" fill="none"/>
<path d="M2064.6 964.4 A94.0 94.0 0 0 0 2026.4 946.2" stroke-width="1.6" fill="none"/>
<path d="M1985.1 946.4 A94.0 94.0 0 0 0 1947.1 964.8" stroke-width="1.6" fill="none"/>
<path d="M1921.4 997.2 A94.0 94.0 0 0 0 1912.1 1038.5" stroke-width="1.6" fill="none"/>
<path d="M1921.4 1078.8 A94.0 94.0 0 0 0 1947.8 1111.8" stroke-width="1.6" fill="none"/>
<path d="M1985.1 1129.6 A94.0 94.0 0 0 0 2027.4 1129.6" stroke-width="1.6" fill="none"/>
<path d="M2064.7 1111.5 A94.0 94.0 0 0 0 2091.0 1078.3" stroke-width="1.6" fill="none"/>
<path d="M1983.9 993.3 L1988.1 1033.8 L2019.0 1033.8 L2031.7 1065.0 L2046.5 1059.1 L2044.3 1052.9 L2035.0 1055.8 L2023.2 1027.6 L1994.5 1027.6 L1994.5 1023.2 L2015.6 1023.2 L2015.6 1016.4 L1993.2 1016.4 L1991.2 997.5" stroke-width="1.2" fill="none" stroke="#333"/>
<circle cx="1992.0" cy="988.2" r="8.4" stroke-width="1.2" fill="none" stroke="#333"/>
<path d="M1980.0 1015.3 A31.5 31.5 0 1 0 2023.5 1058.0 L2016.6 1054.0 A23.5 23.5 0 1 1 1983.1 1022.8 Z" stroke-width="1.2" fill="none" stroke="#333"/>
<path d="M2086.9 1553.8 A94.0 94.0 0 0 0 2077.4 1512.6" stroke-width="1.6" fill="none"/>
<path d="M2051.4 1480.2 A94.0 94.0 0 0 0 2013.2 1462.0" stroke-width="1.6" fill="none"/>
<path d="M1971.9 1462.2 A94.0 94.0 0 0 0 1933.9 1480.6" stroke-width="1.6" fill="none"/>
<path d="M1908.2 1513.0 A94.0 94.0 0 0 0 1898.9 1554.3" stroke-width="1.6" fill="none"/>
<path d="M1908.2 1594.6 A94.0 94.0 0 0 0 1934.6 1627.6" stroke-width="1.6" fill="none"/>
<path d="M1971.9 1645.4 A94.0 94.0 0 0 0 2014.2 1645.4" stroke-width="1.6" fill="none"/>
<path d="M2051.5 1627.3 A94.0 94.0 0 0 0 2077.8 1594.1" stroke-width="1.6" fill="none"/>
<path d="M1970.7 1509.1 L1974.9 1549.6 L2005.8 1549.6 L2018.5 1580.8 L2033.3 1574.9 L2031.1 1568.7 L2021.8 1571.6 L2010.0 1543.4 L1981.3 1543.4 L1981.3 1539.0 L2002.4 1539.0 L2002.4 1532.2 L1980.0 1532.2 L1978.0 1513.3" stroke-width="1.2" fill="none" stroke="#333"/>
<circle cx="1978.8" cy="1504.0" r="8.4" stroke-width="1.2" fill="none" stroke="#333"/>
<path d="M1966.8 1531.1 A31.5 31.5 0 1 0 2010.3 1573.8 L2003.4 1569.8 A23.5 23.5 0 1 1 1969.9 1538.6 Z" stroke-width="1.2" fill="none" stroke="#333"/>
<g transform="matrix(1 0 0 -1 0 2587.3)">
<path d="M1112.7 1165.7 L1102.6 1144.7 L1099.5 1137.7 L1099.5 1123.6 L1101.0 1115.8 L1106.4 1105.0 L1112.7 1097.1 L1121.3 1095.6 L1129.9 1097.1 L1136.2 1105.0 L1141.6 1117.4 L1143.1 1126.8 L1143.1 1134.5 L1140.8 1144.7 L1130.6 1165.7" stroke-width="1.7" fill="none" stroke-linejoin="round"/>
<path d="M1121.3 1103.0 L1126.3 1104.9 L1130.2 1112.7 L1134.1 1123.6 L1134.5 1134.5 L1131.8 1140.8 L1125.3 1144.7 L1116.6 1144.7 L1111.2 1140.8 L1108.1 1133.8 L1108.5 1123.6 L1111.2 1113.5 L1115.5 1104.9Z" stroke-width="2.1" fill="none" stroke-linejoin="round"/>
<circle cx="1121.3" cy="1131.4" r="4.7" stroke-width="1" fill="none"/>
<circle cx="1121.3" cy="1169.2" r="6.0" stroke-width="3" fill="none"/>
<circle cx="1121.3" cy="1169.2" r="2.2" stroke-width="1.2" fill="none"/>
<rect x="1127.8" y="1167.0" width="12.5" height="3.5" stroke-width="0" fill="#000" stroke="none"/>
<circle cx="1106.8" cy="1168.8" r="3.6" stroke-width="1.5" fill="none"/>
<line x1="1104.6" y1="1172.5" x2="1104.6" y2="1180.0" stroke-width="1.5"/>
<line x1="1108.9" y1="1172.5" x2="1108.9" y2="1180.0" stroke-width="1.5"/>
<circle cx="1113.0" cy="1153.5" r="1.1" stroke-width="0" fill="#000"/>
<circle cx="1130.0" cy="1153.5" r="1.1" stroke-width="0" fill="#000"/>
<path d="M1180.5 1180 L1180.5 1134.5 L1186.5 1128.7 L1237.3 1128.7 L1243.3 1134.5 L1243.3 1180" stroke-width="2.1" fill="none"/>
<rect x="1187.8" y="1133.8" width="47.2" height="32.7" stroke-width="2.1" fill="none" rx="3"/>
<line x1="1180.5" y1="1166.9" x2="1243.3" y2="1166.9" stroke-width="2"/>
<line x1="1188.5" y1="1166.9" x2="1188.5" y2="1180.0" stroke-width="1"/>
<line x1="1235.5" y1="1166.9" x2="1235.5" y2="1180.0" stroke-width="1"/>
<circle cx="1211.5" cy="1158.0" r="3.2" stroke-width="1" fill="none"/>
<rect x="1210.1" y="1162.0" width="2.8" height="9.0" stroke-width="1" fill="none"/>
<circle cx="1211.5" cy="1173.5" r="2.8" stroke-width="1.8" fill="none"/>
<line x1="1258.4" y1="931.5" x2="1258.4" y2="1180.0" stroke-width="1"/>
<line x1="1260.5" y1="931.5" x2="1260.5" y2="1180.0" stroke-width="1"/>
<line x1="1268.4" y1="931.5" x2="1268.4" y2="1180.0" stroke-width="1"/>
<line x1="1270.2" y1="931.5" x2="1270.2" y2="1180.0" stroke-width="1"/>
<rect x="1262.6" y="1084.7" width="4.0" height="95.0" stroke-width="1" fill="none"/>
<rect x="1277.2" y="931.4" width="93.4" height="41.6" stroke-width="1.2" fill="none"/>
<line x1="1277.2" y1="940.2" x2="1370.6" y2="940.2" stroke-width="1.2"/>
<line x1="1277.2" y1="951.2" x2="1370.6" y2="951.2" stroke-width="1.2"/>
<line x1="1277.2" y1="962.0" x2="1370.6" y2="962.0" stroke-width="1.2"/>
<line x1="1269.0" y1="932.0" x2="1322.4" y2="1105.4" stroke-width="0.75"/>
<line x1="1376.0" y1="932.0" x2="1322.4" y2="1105.4" stroke-width="0.75"/>
<line x1="1271.0" y1="1179.5" x2="1322.4" y2="1105.4" stroke-width="0.75"/>
<line x1="1376.0" y1="1179.5" x2="1322.4" y2="1105.4" stroke-width="0.75"/>
<circle cx="1322.4" cy="1105.4" r="7.8" stroke-width="3.4" fill="none"/>
<line x1="1314.9" y1="1105.4" x2="1329.9" y2="1105.4" stroke-width="2.6"/>
<line x1="1322.4" y1="1097.9" x2="1322.4" y2="1112.9" stroke-width="2.6"/>
<rect x="1309.6" y="1170.3" width="26.3" height="9.9" stroke-width="1.5" fill="none"/>
<rect x="1319.5" y="1165.5" width="5.5" height="4.8" stroke-width="1.2" fill="none"/>
<path d="M1443.9 1165.7 L1433.8 1144.7 L1430.7 1137.7 L1430.7 1123.6 L1432.2 1115.8 L1437.6 1105.0 L1443.9 1097.1 L1452.5 1095.6 L1461.1 1097.1 L1467.4 1105.0 L1472.8 1117.4 L1474.3 1126.8 L1474.3 1134.5 L1472.0 1144.7 L1461.8 1165.7" stroke-width="1.7" fill="none" stroke-linejoin="round"/>
<path d="M1452.5 1103.0 L1457.5 1104.9 L1461.4 1112.7 L1465.3 1123.6 L1465.7 1134.5 L1463.0 1140.8 L1456.5 1144.7 L1447.8 1144.7 L1442.4 1140.8 L1439.3 1133.8 L1439.7 1123.6 L1442.4 1113.5 L1446.7 1104.9Z" stroke-width="2.1" fill="none" stroke-linejoin="round"/>
<circle cx="1452.5" cy="1131.4" r="4.7" stroke-width="1" fill="none"/>
<circle cx="1452.5" cy="1169.2" r="6.0" stroke-width="3" fill="none"/>
<circle cx="1452.5" cy="1169.2" r="2.2" stroke-width="1.2" fill="none"/>
<rect x="1459.0" y="1167.0" width="12.5" height="3.5" stroke-width="0" fill="#000" stroke="none"/>
<circle cx="1438.0" cy="1168.8" r="3.6" stroke-width="1.5" fill="none"/>
<line x1="1435.8" y1="1172.5" x2="1435.8" y2="1180.0" stroke-width="1.5"/>
<line x1="1440.1" y1="1172.5" x2="1440.1" y2="1180.0" stroke-width="1.5"/>
<circle cx="1444.2" cy="1153.5" r="1.1" stroke-width="0" fill="#000"/>
<circle cx="1461.2" cy="1153.5" r="1.1" stroke-width="0" fill="#000"/>
<path d="M1511.5 1180 L1511.5 1134.5 L1517.5 1128.7 L1568.3 1128.7 L1574.3 1134.5 L1574.3 1180" stroke-width="2.1" fill="none"/>
<rect x="1518.8" y="1133.8" width="47.2" height="32.7" stroke-width="2.1" fill="none" rx="3"/>
<line x1="1511.5" y1="1166.9" x2="1574.3" y2="1166.9" stroke-width="2"/>
<line x1="1519.5" y1="1166.9" x2="1519.5" y2="1180.0" stroke-width="1"/>
<line x1="1566.5" y1="1166.9" x2="1566.5" y2="1180.0" stroke-width="1"/>
<circle cx="1542.5" cy="1158.0" r="3.2" stroke-width="1" fill="none"/>
<rect x="1541.1" y="1162.0" width="2.8" height="9.0" stroke-width="1" fill="none"/>
<circle cx="1542.5" cy="1173.5" r="2.8" stroke-width="1.8" fill="none"/>
<line x1="1589.6" y1="931.5" x2="1589.6" y2="1180.0" stroke-width="1"/>
<line x1="1591.7" y1="931.5" x2="1591.7" y2="1180.0" stroke-width="1"/>
<line x1="1599.6" y1="931.5" x2="1599.6" y2="1180.0" stroke-width="1"/>
<line x1="1601.4" y1="931.5" x2="1601.4" y2="1180.0" stroke-width="1"/>
<rect x="1593.8" y="1084.7" width="4.0" height="95.0" stroke-width="1" fill="none"/>
<rect x="1608.4" y="931.4" width="93.4" height="41.6" stroke-width="1.2" fill="none"/>
<line x1="1608.4" y1="940.2" x2="1701.8" y2="940.2" stroke-width="1.2"/>
<line x1="1608.4" y1="951.2" x2="1701.8" y2="951.2" stroke-width="1.2"/>
<line x1="1608.4" y1="962.0" x2="1701.8" y2="962.0" stroke-width="1.2"/>
<line x1="1600.2" y1="932.0" x2="1653.6" y2="1105.4" stroke-width="0.75"/>
<line x1="1707.2" y1="932.0" x2="1653.6" y2="1105.4" stroke-width="0.75"/>
<line x1="1602.2" y1="1179.5" x2="1653.6" y2="1105.4" stroke-width="0.75"/>
<line x1="1707.2" y1="1179.5" x2="1653.6" y2="1105.4" stroke-width="0.75"/>
<circle cx="1653.6" cy="1105.4" r="7.8" stroke-width="3.4" fill="none"/>
<line x1="1646.1" y1="1105.4" x2="1661.1" y2="1105.4" stroke-width="2.6"/>
<line x1="1653.6" y1="1097.9" x2="1653.6" y2="1112.9" stroke-width="2.6"/>
<rect x="1640.8" y="1170.3" width="26.3" height="9.9" stroke-width="1.5" fill="none"/>
<rect x="1650.7" y="1165.5" width="5.5" height="4.8" stroke-width="1.2" fill="none"/>
<line x1="1842.0" y1="931.5" x2="1842.0" y2="1068.6" stroke-width="1"/>
<line x1="1844.6" y1="931.5" x2="1844.6" y2="1068.6" stroke-width="1"/>
<line x1="1852.5" y1="931.5" x2="1852.5" y2="1068.6" stroke-width="1"/>
<line x1="1854.6" y1="931.5" x2="1854.6" y2="1068.6" stroke-width="1"/>
<rect x="1842.8" y="1068.6" width="17.6" height="110.8" fill="url(#hp)" stroke="#000" stroke-width="2"/>
<path d="M1838.4 1179.4 L1838.4 1076.5 Q1838.4 1073.3 1835 1073.3 L1796 1073.3 L1792.5 1077 L1792.5 1135.2 L1775.5 1135.2 L1772.7 1138 L1772.7 1179.4" stroke-width="1.3" fill="#fff"/>
<rect x="1800.0" y="1085.5" width="2.6" height="76.0" stroke-width="1" fill="none"/>
<rect x="1813.0" y="1085.5" width="2.6" height="76.0" stroke-width="1" fill="none"/>
<rect x="1824.5" y="1085.5" width="2.6" height="76.0" stroke-width="1" fill="none"/>
<rect x="1778.2" y="1147.0" width="2.6" height="17.0" stroke-width="1" fill="none"/>
<rect x="1784.2" y="1147.0" width="2.6" height="17.0" stroke-width="1" fill="none"/>
<rect x="1800.0" y="1147.0" width="2.6" height="17.0" stroke-width="1" fill="none"/>
<rect x="1813.0" y="1147.0" width="2.6" height="17.0" stroke-width="1" fill="none"/>
<rect x="1824.5" y="1147.0" width="2.6" height="17.0" stroke-width="1" fill="none"/>
<path d="M1730 1060 L1735 1060 Q1736.8 1060 1736.8 1063 L1736.8 1172 L1810 1172" stroke-width="1" fill="none"/>
<path d="M1730 1064 L1732 1064 L1732 1176 L1812 1176" stroke-width="1" fill="none"/>
<line x1="1729.5" y1="932.0" x2="1784.6" y2="1105.4" stroke-width="0.75"/>
<line x1="1842.0" y1="932.0" x2="1784.6" y2="1105.4" stroke-width="0.75"/>
<line x1="1736.0" y1="1175.0" x2="1784.6" y2="1105.4" stroke-width="0.75"/>
<line x1="1838.0" y1="1179.0" x2="1784.6" y2="1105.4" stroke-width="0.75"/>
<circle cx="1784.6" cy="1105.4" r="7.8" stroke-width="3.4" fill="none"/>
<line x1="1777.1" y1="1105.4" x2="1792.1" y2="1105.4" stroke-width="2.6"/>
<line x1="1784.6" y1="1097.9" x2="1784.6" y2="1112.9" stroke-width="2.6"/>
<rect x="1771.0" y="1165.0" width="25.0" height="6.0" stroke-width="1.5" fill="none"/>
<path d="M1892.9 1180 L1892.9 1134.5 L1898.9 1128.7 L1949.7 1128.7 L1955.7 1134.5 L1955.7 1180" stroke-width="2.1" fill="none"/>
<rect x="1900.2" y="1133.8" width="47.2" height="32.7" stroke-width="2.1" fill="none" rx="3"/>
<line x1="1892.9" y1="1166.9" x2="1955.7" y2="1166.9" stroke-width="2"/>
<line x1="1900.9" y1="1166.9" x2="1900.9" y2="1180.0" stroke-width="1"/>
<line x1="1947.9" y1="1166.9" x2="1947.9" y2="1180.0" stroke-width="1"/>
<circle cx="1923.9" cy="1158.0" r="3.2" stroke-width="1" fill="none"/>
<rect x="1922.5" y="1162.0" width="2.8" height="9.0" stroke-width="1" fill="none"/>
<circle cx="1923.9" cy="1173.5" r="2.8" stroke-width="1.8" fill="none"/>
<path d="M2094.3 1165.7 L2104.4 1144.7 L2107.5 1137.7 L2107.5 1123.6 L2106.0 1115.8 L2100.6 1105.0 L2094.3 1097.1 L2085.7 1095.6 L2077.1 1097.1 L2070.8 1105.0 L2065.4 1117.4 L2063.9 1126.8 L2063.9 1134.5 L2066.2 1144.7 L2076.4 1165.7" stroke-width="1.7" fill="none" stroke-linejoin="round"/>
<path d="M2085.7 1103.0 L2080.7 1104.9 L2076.8 1112.7 L2072.9 1123.6 L2072.5 1134.5 L2075.2 1140.8 L2081.7 1144.7 L2090.4 1144.7 L2095.8 1140.8 L2098.9 1133.8 L2098.5 1123.6 L2095.8 1113.5 L2091.5 1104.9Z" stroke-width="2.1" fill="none" stroke-linejoin="round"/>
<circle cx="2085.7" cy="1131.4" r="4.7" stroke-width="1" fill="none"/>
<circle cx="2085.7" cy="1169.2" r="6.0" stroke-width="3" fill="none"/>
<circle cx="2085.7" cy="1169.2" r="2.2" stroke-width="1.2" fill="none"/>
<rect x="2066.7" y="1167.0" width="12.5" height="3.5" stroke-width="0" fill="#000" stroke="none"/>
<circle cx="2100.2" cy="1168.8" r="3.6" stroke-width="1.5" fill="none"/>
<line x1="2102.4" y1="1172.5" x2="2102.4" y2="1180.0" stroke-width="1.5"/>
<line x1="2098.1" y1="1172.5" x2="2098.1" y2="1180.0" stroke-width="1.5"/>
<circle cx="2094.0" cy="1153.5" r="1.1" stroke-width="0" fill="#000"/>
<circle cx="2077.0" cy="1153.5" r="1.1" stroke-width="0" fill="#000"/>
<rect x="2133.0" y="1011.9" width="6.7" height="135.9" stroke-width="1.2" fill="none" rx="3"/>
<line x1="2136.0" y1="1015.0" x2="2136.0" y2="1144.0" stroke-width="1"/>
<path d="M2008.9 1179.8 L2008.9 1177 Q2008.9 1172 2014 1172 L2120 1172 Q2125.4 1172 2125.4 1177 L2125.4 1179.8" stroke-width="1.2" fill="none"/>
<path d="M2013 1179.8 Q2013 1176 2017 1176 L2117 1176 Q2121 1176 2121 1179.8" stroke-width="1" fill="none"/>
</g>
<path d="M1112.7 1165.7 L1102.6 1144.7 L1099.5 1137.7 L1099.5 1123.6 L1101.0 1115.8 L1106.4 1105.0 L1112.7 1097.1 L1121.3 1095.6 L1129.9 1097.1 L1136.2 1105.0 L1141.6 1117.4 L1143.1 1126.8 L1143.1 1134.5 L1140.8 1144.7 L1130.6 1165.7" stroke-width="1.7" fill="none" stroke-linejoin="round"/>
<path d="M1121.3 1103.0 L1126.3 1104.9 L1130.2 1112.7 L1134.1 1123.6 L1134.5 1134.5 L1131.8 1140.8 L1125.3 1144.7 L1116.6 1144.7 L1111.2 1140.8 L1108.1 1133.8 L1108.5 1123.6 L1111.2 1113.5 L1115.5 1104.9Z" stroke-width="2.1" fill="none" stroke-linejoin="round"/>
<circle cx="1121.3" cy="1131.4" r="4.7" stroke-width="1" fill="none"/>
<circle cx="1121.3" cy="1169.2" r="6.0" stroke-width="3" fill="none"/>
<circle cx="1121.3" cy="1169.2" r="2.2" stroke-width="1.2" fill="none"/>
<rect x="1127.8" y="1167.0" width="12.5" height="3.5" stroke-width="0" fill="#000" stroke="none"/>
<circle cx="1106.8" cy="1168.8" r="3.6" stroke-width="1.5" fill="none"/>
<line x1="1104.6" y1="1172.5" x2="1104.6" y2="1180.0" stroke-width="1.5"/>
<line x1="1108.9" y1="1172.5" x2="1108.9" y2="1180.0" stroke-width="1.5"/>
<circle cx="1113.0" cy="1153.5" r="1.1" stroke-width="0" fill="#000"/>
<circle cx="1130.0" cy="1153.5" r="1.1" stroke-width="0" fill="#000"/>
<path d="M1180.5 1180 L1180.5 1134.5 L1186.5 1128.7 L1237.3 1128.7 L1243.3 1134.5 L1243.3 1180" stroke-width="2.1" fill="none"/>
<rect x="1187.8" y="1133.8" width="47.2" height="32.7" stroke-width="2.1" fill="none" rx="3"/>
<line x1="1180.5" y1="1166.9" x2="1243.3" y2="1166.9" stroke-width="2"/>
<line x1="1188.5" y1="1166.9" x2="1188.5" y2="1180.0" stroke-width="1"/>
<line x1="1235.5" y1="1166.9" x2="1235.5" y2="1180.0" stroke-width="1"/>
<circle cx="1211.5" cy="1158.0" r="3.2" stroke-width="1" fill="none"/>
<rect x="1210.1" y="1162.0" width="2.8" height="9.0" stroke-width="1" fill="none"/>
<circle cx="1211.5" cy="1173.5" r="2.8" stroke-width="1.8" fill="none"/>
<line x1="1258.4" y1="931.5" x2="1258.4" y2="1180.0" stroke-width="1"/>
<line x1="1260.5" y1="931.5" x2="1260.5" y2="1180.0" stroke-width="1"/>
<line x1="1268.4" y1="931.5" x2="1268.4" y2="1180.0" stroke-width="1"/>
<line x1="1270.2" y1="931.5" x2="1270.2" y2="1180.0" stroke-width="1"/>
<rect x="1262.6" y="1084.7" width="4.0" height="95.0" stroke-width="1" fill="none"/>
<rect x="1277.2" y="931.4" width="93.4" height="41.6" stroke-width="1.2" fill="none"/>
<line x1="1277.2" y1="940.2" x2="1370.6" y2="940.2" stroke-width="1.2"/>
<line x1="1277.2" y1="951.2" x2="1370.6" y2="951.2" stroke-width="1.2"/>
<line x1="1277.2" y1="962.0" x2="1370.6" y2="962.0" stroke-width="1.2"/>
<line x1="1269.0" y1="932.0" x2="1322.4" y2="1105.4" stroke-width="0.75"/>
<line x1="1376.0" y1="932.0" x2="1322.4" y2="1105.4" stroke-width="0.75"/>
<line x1="1271.0" y1="1179.5" x2="1322.4" y2="1105.4" stroke-width="0.75"/>
<line x1="1376.0" y1="1179.5" x2="1322.4" y2="1105.4" stroke-width="0.75"/>
<circle cx="1322.4" cy="1105.4" r="7.8" stroke-width="3.4" fill="none"/>
<line x1="1314.9" y1="1105.4" x2="1329.9" y2="1105.4" stroke-width="2.6"/>
<line x1="1322.4" y1="1097.9" x2="1322.4" y2="1112.9" stroke-width="2.6"/>
<rect x="1309.6" y="1170.3" width="26.3" height="9.9" stroke-width="1.5" fill="none"/>
<rect x="1319.5" y="1165.5" width="5.5" height="4.8" stroke-width="1.2" fill="none"/>
<path d="M1443.9 1165.7 L1433.8 1144.7 L1430.7 1137.7 L1430.7 1123.6 L1432.2 1115.8 L1437.6 1105.0 L1443.9 1097.1 L1452.5 1095.6 L1461.1 1097.1 L1467.4 1105.0 L1472.8 1117.4 L1474.3 1126.8 L1474.3 1134.5 L1472.0 1144.7 L1461.8 1165.7" stroke-width="1.7" fill="none" stroke-linejoin="round"/>
<path d="M1452.5 1103.0 L1457.5 1104.9 L1461.4 1112.7 L1465.3 1123.6 L1465.7 1134.5 L1463.0 1140.8 L1456.5 1144.7 L1447.8 1144.7 L1442.4 1140.8 L1439.3 1133.8 L1439.7 1123.6 L1442.4 1113.5 L1446.7 1104.9Z" stroke-width="2.1" fill="none" stroke-linejoin="round"/>
<circle cx="1452.5" cy="1131.4" r="4.7" stroke-width="1" fill="none"/>
<circle cx="1452.5" cy="1169.2" r="6.0" stroke-width="3" fill="none"/>
<circle cx="1452.5" cy="1169.2" r="2.2" stroke-width="1.2" fill="none"/>
<rect x="1459.0" y="1167.0" width="12.5" height="3.5" stroke-width="0" fill="#000" stroke="none"/>
<circle cx="1438.0" cy="1168.8" r="3.6" stroke-width="1.5" fill="none"/>
<line x1="1435.8" y1="1172.5" x2="1435.8" y2="1180.0" stroke-width="1.5"/>
<line x1="1440.1" y1="1172.5" x2="1440.1" y2="1180.0" stroke-width="1.5"/>
<circle cx="1444.2" cy="1153.5" r="1.1" stroke-width="0" fill="#000"/>
<circle cx="1461.2" cy="1153.5" r="1.1" stroke-width="0" fill="#000"/>
<path d="M1511.5 1180 L1511.5 1134.5 L1517.5 1128.7 L1568.3 1128.7 L1574.3 1134.5 L1574.3 1180" stroke-width="2.1" fill="none"/>
<rect x="1518.8" y="1133.8" width="47.2" height="32.7" stroke-width="2.1" fill="none" rx="3"/>
<line x1="1511.5" y1="1166.9" x2="1574.3" y2="1166.9" stroke-width="2"/>
<line x1="1519.5" y1="1166.9" x2="1519.5" y2="1180.0" stroke-width="1"/>
<line x1="1566.5" y1="1166.9" x2="1566.5" y2="1180.0" stroke-width="1"/>
<circle cx="1542.5" cy="1158.0" r="3.2" stroke-width="1" fill="none"/>
<rect x="1541.1" y="1162.0" width="2.8" height="9.0" stroke-width="1" fill="none"/>
<circle cx="1542.5" cy="1173.5" r="2.8" stroke-width="1.8" fill="none"/>
<line x1="1589.6" y1="931.5" x2="1589.6" y2="1180.0" stroke-width="1"/>
<line x1="1591.7" y1="931.5" x2="1591.7" y2="1180.0" stroke-width="1"/>
<line x1="1599.6" y1="931.5" x2="1599.6" y2="1180.0" stroke-width="1"/>
<line x1="1601.4" y1="931.5" x2="1601.4" y2="1180.0" stroke-width="1"/>
<rect x="1593.8" y="1084.7" width="4.0" height="95.0" stroke-width="1" fill="none"/>
<rect x="1608.4" y="931.4" width="93.4" height="41.6" stroke-width="1.2" fill="none"/>
<line x1="1608.4" y1="940.2" x2="1701.8" y2="940.2" stroke-width="1.2"/>
<line x1="1608.4" y1="951.2" x2="1701.8" y2="951.2" stroke-width="1.2"/>
<line x1="1608.4" y1="962.0" x2="1701.8" y2="962.0" stroke-width="1.2"/>
<line x1="1600.2" y1="932.0" x2="1653.6" y2="1105.4" stroke-width="0.75"/>
<line x1="1707.2" y1="932.0" x2="1653.6" y2="1105.4" stroke-width="0.75"/>
<line x1="1602.2" y1="1179.5" x2="1653.6" y2="1105.4" stroke-width="0.75"/>
<line x1="1707.2" y1="1179.5" x2="1653.6" y2="1105.4" stroke-width="0.75"/>
<circle cx="1653.6" cy="1105.4" r="7.8" stroke-width="3.4" fill="none"/>
<line x1="1646.1" y1="1105.4" x2="1661.1" y2="1105.4" stroke-width="2.6"/>
<line x1="1653.6" y1="1097.9" x2="1653.6" y2="1112.9" stroke-width="2.6"/>
<rect x="1640.8" y="1170.3" width="26.3" height="9.9" stroke-width="1.5" fill="none"/>
<rect x="1650.7" y="1165.5" width="5.5" height="4.8" stroke-width="1.2" fill="none"/>
<line x1="1842.0" y1="931.5" x2="1842.0" y2="1068.6" stroke-width="1"/>
<line x1="1844.6" y1="931.5" x2="1844.6" y2="1068.6" stroke-width="1"/>
<line x1="1852.5" y1="931.5" x2="1852.5" y2="1068.6" stroke-width="1"/>
<line x1="1854.6" y1="931.5" x2="1854.6" y2="1068.6" stroke-width="1"/>
<rect x="1842.8" y="1068.6" width="17.6" height="110.8" fill="url(#hp)" stroke="#000" stroke-width="2"/>
<path d="M1838.4 1179.4 L1838.4 1076.5 Q1838.4 1073.3 1835 1073.3 L1796 1073.3 L1792.5 1077 L1792.5 1135.2 L1775.5 1135.2 L1772.7 1138 L1772.7 1179.4" stroke-width="1.3" fill="#fff"/>
<rect x="1800.0" y="1085.5" width="2.6" height="76.0" stroke-width="1" fill="none"/>
<rect x="1813.0" y="1085.5" width="2.6" height="76.0" stroke-width="1" fill="none"/>
<rect x="1824.5" y="1085.5" width="2.6" height="76.0" stroke-width="1" fill="none"/>
<rect x="1778.2" y="1147.0" width="2.6" height="17.0" stroke-width="1" fill="none"/>
<rect x="1784.2" y="1147.0" width="2.6" height="17.0" stroke-width="1" fill="none"/>
<rect x="1800.0" y="1147.0" width="2.6" height="17.0" stroke-width="1" fill="none"/>
<rect x="1813.0" y="1147.0" width="2.6" height="17.0" stroke-width="1" fill="none"/>
<rect x="1824.5" y="1147.0" width="2.6" height="17.0" stroke-width="1" fill="none"/>
<path d="M1730 1060 L1735 1060 Q1736.8 1060 1736.8 1063 L1736.8 1172 L1810 1172" stroke-width="1" fill="none"/>
<path d="M1730 1064 L1732 1064 L1732 1176 L1812 1176" stroke-width="1" fill="none"/>
<line x1="1729.5" y1="932.0" x2="1784.6" y2="1105.4" stroke-width="0.75"/>
<line x1="1842.0" y1="932.0" x2="1784.6" y2="1105.4" stroke-width="0.75"/>
<line x1="1736.0" y1="1175.0" x2="1784.6" y2="1105.4" stroke-width="0.75"/>
<line x1="1838.0" y1="1179.0" x2="1784.6" y2="1105.4" stroke-width="0.75"/>
<circle cx="1784.6" cy="1105.4" r="7.8" stroke-width="3.4" fill="none"/>
<line x1="1777.1" y1="1105.4" x2="1792.1" y2="1105.4" stroke-width="2.6"/>
<line x1="1784.6" y1="1097.9" x2="1784.6" y2="1112.9" stroke-width="2.6"/>
<rect x="1771.0" y="1165.0" width="25.0" height="6.0" stroke-width="1.5" fill="none"/>
<path d="M1892.9 1180 L1892.9 1134.5 L1898.9 1128.7 L1949.7 1128.7 L1955.7 1134.5 L1955.7 1180" stroke-width="2.1" fill="none"/>
<rect x="1900.2" y="1133.8" width="47.2" height="32.7" stroke-width="2.1" fill="none" rx="3"/>
<line x1="1892.9" y1="1166.9" x2="1955.7" y2="1166.9" stroke-width="2"/>
<line x1="1900.9" y1="1166.9" x2="1900.9" y2="1180.0" stroke-width="1"/>
<line x1="1947.9" y1="1166.9" x2="1947.9" y2="1180.0" stroke-width="1"/>
<circle cx="1923.9" cy="1158.0" r="3.2" stroke-width="1" fill="none"/>
<rect x="1922.5" y="1162.0" width="2.8" height="9.0" stroke-width="1" fill="none"/>
<circle cx="1923.9" cy="1173.5" r="2.8" stroke-width="1.8" fill="none"/>
<path d="M2094.3 1165.7 L2104.4 1144.7 L2107.5 1137.7 L2107.5 1123.6 L2106.0 1115.8 L2100.6 1105.0 L2094.3 1097.1 L2085.7 1095.6 L2077.1 1097.1 L2070.8 1105.0 L2065.4 1117.4 L2063.9 1126.8 L2063.9 1134.5 L2066.2 1144.7 L2076.4 1165.7" stroke-width="1.7" fill="none" stroke-linejoin="round"/>
<path d="M2085.7 1103.0 L2080.7 1104.9 L2076.8 1112.7 L2072.9 1123.6 L2072.5 1134.5 L2075.2 1140.8 L2081.7 1144.7 L2090.4 1144.7 L2095.8 1140.8 L2098.9 1133.8 L2098.5 1123.6 L2095.8 1113.5 L2091.5 1104.9Z" stroke-width="2.1" fill="none" stroke-linejoin="round"/>
<circle cx="2085.7" cy="1131.4" r="4.7" stroke-width="1" fill="none"/>
<circle cx="2085.7" cy="1169.2" r="6.0" stroke-width="3" fill="none"/>
<circle cx="2085.7" cy="1169.2" r="2.2" stroke-width="1.2" fill="none"/>
<rect x="2066.7" y="1167.0" width="12.5" height="3.5" stroke-width="0" fill="#000" stroke="none"/>
<circle cx="2100.2" cy="1168.8" r="3.6" stroke-width="1.5" fill="none"/>
<line x1="2102.4" y1="1172.5" x2="2102.4" y2="1180.0" stroke-width="1.5"/>
<line x1="2098.1" y1="1172.5" x2="2098.1" y2="1180.0" stroke-width="1.5"/>
<circle cx="2094.0" cy="1153.5" r="1.1" stroke-width="0" fill="#000"/>
<circle cx="2077.0" cy="1153.5" r="1.1" stroke-width="0" fill="#000"/>
<rect x="2133.0" y="1011.9" width="6.7" height="135.9" stroke-width="1.2" fill="none" rx="3"/>
<line x1="2136.0" y1="1015.0" x2="2136.0" y2="1144.0" stroke-width="1"/>
<path d="M2008.9 1179.8 L2008.9 1177 Q2008.9 1172 2014 1172 L2120 1172 Q2125.4 1172 2125.4 1177 L2125.4 1179.8" stroke-width="1.2" fill="none"/>
<path d="M2013 1179.8 Q2013 1176 2017 1176 L2117 1176 Q2121 1176 2121 1179.8" stroke-width="1" fill="none"/>
<path d="M2252 835.5 L2087.7 835.5 L1819 1071" stroke-width="2" fill="none"/>
<path d="M1817.4 1072.5 L1825 1060 L1830 1066 Z" stroke-width="1" fill="#000"/>
<circle cx="1254.0" cy="1215.4" r="5.0" stroke-width="2.3" fill="none"/>
<circle cx="1254.0" cy="1371.6" r="5.0" stroke-width="2.3" fill="none"/>
<circle cx="1593.5" cy="1215.4" r="5.0" stroke-width="2.3" fill="none"/>
<circle cx="1593.5" cy="1371.6" r="5.0" stroke-width="2.3" fill="none"/>
<circle cx="2026.9" cy="1215.4" r="5.0" stroke-width="2.3" fill="none"/>
<circle cx="2026.9" cy="1371.6" r="5.0" stroke-width="2.3" fill="none"/>
<circle cx="1603.3" cy="1293.6" r="7.8" stroke-width="3.4" fill="none"/>
<line x1="1595.8" y1="1293.6" x2="1610.8" y2="1293.6" stroke-width="2.6"/>
<line x1="1603.3" y1="1286.1" x2="1603.3" y2="1301.1" stroke-width="2.6"/>
<rect x="1368.3" y="1207.5" width="42.8" height="10.9" stroke-width="0" fill="#000" stroke="none"/>
<path d="M1375 1209.5 L1389.7 1215 L1375 1216.5 Z M1404.5 1209.5 L1389.7 1215 L1404.5 1216.5 Z" stroke-width="0" fill="#fff" stroke="none"/>
<circle cx="1868.7" cy="1211.5" r="2.6" stroke-width="0" fill="#000"/>
<circle cx="1981.9" cy="1255.0" r="41.6" stroke-width="1.2" fill="none"/>
<circle cx="1969.4" cy="1255.3" r="2.6" stroke-width="0" fill="#000"/>
<circle cx="1994.4" cy="1255.3" r="2.6" stroke-width="0" fill="#000"/>
<circle cx="1975.9" cy="1237.0" r="1.6" stroke-width="1" fill="none"/>
<text x="1967.5" y="1280.0" font-size="18.75" textLength="28.7" lengthAdjust="spacingAndGlyphs" style="stroke:#fff;stroke-width:0.36;">WH</text>
<circle cx="2093.0" cy="1253.4" r="41.6" stroke-width="1.2" fill="none"/>
<circle cx="2080.5" cy="1253.7" r="2.6" stroke-width="0" fill="#000"/>
<circle cx="2105.5" cy="1253.7" r="2.6" stroke-width="0" fill="#000"/>
<circle cx="2087.0" cy="1235.4" r="1.6" stroke-width="1" fill="none"/>
<text x="2078.6" y="1278.4" font-size="18.75" textLength="28.7" lengthAdjust="spacingAndGlyphs" style="stroke:#fff;stroke-width:0.36;">WH</text>
<text x="1375.0" y="1238.7" font-size="19.62" textLength="28.0" lengthAdjust="spacingAndGlyphs" style="stroke:#fff;stroke-width:0.38;">BP</text>
<text x="1837.0" y="1226.3" font-size="19.62" textLength="28.4" lengthAdjust="spacingAndGlyphs" style="stroke:#fff;stroke-width:0.38;">HB</text>
<text x="1617.7" y="1312.7" font-size="19.62" textLength="27.3" lengthAdjust="spacingAndGlyphs" style="stroke:#fff;stroke-width:0.38;">FD</text>
<text x="1278.0" y="1027.8" font-size="19.77" textLength="88.5" lengthAdjust="spacingAndGlyphs" style="stroke:#fff;stroke-width:0.38;">SHOWER</text>
<text x="1609.0" y="1029.4" font-size="19.77" textLength="89.8" lengthAdjust="spacingAndGlyphs" style="stroke:#fff;stroke-width:0.38;">SHOWER</text>
<text x="1746.4" y="1027.8" font-size="19.77" textLength="88.6" lengthAdjust="spacingAndGlyphs" style="stroke:#fff;stroke-width:0.38;">SHOWER</text>
<text x="1278.0" y="1548.0" font-size="19.77" textLength="88.2" lengthAdjust="spacingAndGlyphs" style="stroke:#fff;stroke-width:0.38;">SHOWER</text>
<text x="1609.0" y="1571.9" font-size="19.77" textLength="89.7" lengthAdjust="spacingAndGlyphs" style="stroke:#fff;stroke-width:0.38;">SHOWER</text>
<text x="1746.4" y="1572.5" font-size="19.77" textLength="88.7" lengthAdjust="spacingAndGlyphs" style="stroke:#fff;stroke-width:0.38;">SHOWER</text>
<text x="1318.3" y="1133.0" font-size="19.77" textLength="29.0" lengthAdjust="spacingAndGlyphs" style="stroke:#fff;stroke-width:0.38;">FD</text>
<text x="1650.0" y="1133.9" font-size="19.77" textLength="28.0" lengthAdjust="spacingAndGlyphs" style="stroke:#fff;stroke-width:0.38;">FD</text>
<text x="1781.5" y="1133.0" font-size="19.77" textLength="27.2" lengthAdjust="spacingAndGlyphs" style="stroke:#fff;stroke-width:0.38;">FD</text>
<text x="1317.9" y="1508.8" font-size="19.77" textLength="28.1" lengthAdjust="spacingAndGlyphs" style="stroke:#fff;stroke-width:0.38;">FD</text>
<text x="1650.0" y="1508.3" font-size="19.77" textLength="28.0" lengthAdjust="spacingAndGlyphs" style="stroke:#fff;stroke-width:0.38;">FD</text>
<text x="1781.3" y="1508.0" font-size="19.77" textLength="27.7" lengthAdjust="spacingAndGlyphs" style="stroke:#fff;stroke-width:0.38;">FD</text>
<line x1="1041.5" y1="625.0" x2="1041.5" y2="1868.6" stroke-width="2"/>
<line x1="2166.7" y1="625.0" x2="2166.7" y2="1868.6" stroke-width="2"/>
<line x1="1041.5" y1="718.6" x2="2166.7" y2="718.6" stroke-width="2"/>
<line x1="1041.5" y1="1868.6" x2="2166.7" y2="1868.6" stroke-width="2"/>
<line x1="1041.5" y1="644.9" x2="2166.7" y2="644.9" stroke-width="2"/>
<line x1="1031.0" y1="654.5" x2="1051.0" y2="635.6" stroke-width="4"/>
<line x1="2156.4" y1="654.3" x2="2176.0" y2="636.1" stroke-width="4"/>
<text x="1490.8" y="635.0" font-size="27.03" textLength="223.0" lengthAdjust="spacingAndGlyphs" style="stroke:#fff;stroke-width:0.52;">30'-0&quot; BUILDING</text>
<line x1="2288.4" y1="906.6" x2="2288.4" y2="1681.0" stroke-width="2"/>
<line x1="2174.5" y1="906.1" x2="2306.5" y2="906.1" stroke-width="2"/>
<line x1="2174.5" y1="1680.5" x2="2306.5" y2="1680.5" stroke-width="2"/>
<line x1="2278.6" y1="896.9" x2="2298.0" y2="915.8" stroke-width="4"/>
<line x1="2278.6" y1="1670.5" x2="2298.0" y2="1689.5" stroke-width="4"/>
<text x="2278.2" y="1406.3" font-size="27.03" textLength="222.5" lengthAdjust="spacingAndGlyphs" transform="rotate(-90 2278.2 1406.3)" style="stroke:#fff;stroke-width:0.52;">20'-8&quot; BUILDING</text>
<line x1="1003.4" y1="868.9" x2="1230.0" y2="868.9" stroke-width="1.8"/>
<line x1="1278.0" y1="868.9" x2="1330.0" y2="868.9" stroke-width="1.8"/>
<line x1="1378.0" y1="868.9" x2="1430.0" y2="868.9" stroke-width="1.8"/>
<line x1="1478.7" y1="868.9" x2="1729.0" y2="868.9" stroke-width="1.8"/>
<line x1="1778.0" y1="868.9" x2="1829.0" y2="868.9" stroke-width="1.8"/>
<line x1="1878.0" y1="868.9" x2="1929.5" y2="868.9" stroke-width="1.8"/>
<line x1="1978.7" y1="868.9" x2="2203.7" y2="868.9" stroke-width="1.8"/>
<line x1="1003.4" y1="1718.0" x2="1230.0" y2="1718.0" stroke-width="1.8"/>
<line x1="1278.0" y1="1718.0" x2="1330.0" y2="1718.0" stroke-width="1.8"/>
<line x1="1378.0" y1="1718.0" x2="1430.0" y2="1718.0" stroke-width="1.8"/>
<line x1="1478.7" y1="1718.0" x2="1729.0" y2="1718.0" stroke-width="1.8"/>
<line x1="1778.0" y1="1718.0" x2="1829.0" y2="1718.0" stroke-width="1.8"/>
<line x1="1878.0" y1="1718.0" x2="1929.5" y2="1718.0" stroke-width="1.8"/>
<line x1="1978.7" y1="1718.0" x2="2203.7" y2="1718.0" stroke-width="1.8"/>
<line x1="1003.4" y1="1293.7" x2="1230.0" y2="1293.7" stroke-width="1.8"/>
<line x1="1278.0" y1="1293.7" x2="1330.0" y2="1293.7" stroke-width="1.8"/>
<line x1="1378.0" y1="1293.7" x2="1430.0" y2="1293.7" stroke-width="1.8"/>
<line x1="1478.7" y1="1293.7" x2="1729.0" y2="1293.7" stroke-width="1.8"/>
<line x1="1778.0" y1="1293.7" x2="1829.0" y2="1293.7" stroke-width="1.8"/>
<line x1="1878.0" y1="1293.7" x2="1929.5" y2="1293.7" stroke-width="1.8"/>
<line x1="1978.7" y1="1293.7" x2="2203.7" y2="1293.7" stroke-width="1.8"/>
<line x1="1003.6" y1="868.9" x2="1003.6" y2="1169.5" stroke-width="1.8"/>
<line x1="1003.6" y1="1218.8" x2="1003.6" y2="1269.5" stroke-width="1.8"/>
<line x1="1003.6" y1="1318.3" x2="1003.6" y2="1369.5" stroke-width="1.8"/>
<line x1="1003.6" y1="1418.0" x2="1003.6" y2="1718.0" stroke-width="1.8"/>
<line x1="2203.7" y1="868.9" x2="2203.7" y2="1169.5" stroke-width="1.8"/>
<line x1="2203.7" y1="1218.8" x2="2203.7" y2="1269.5" stroke-width="1.8"/>
<line x1="2203.7" y1="1318.3" x2="2203.7" y2="1369.5" stroke-width="1.8"/>
<line x1="2203.7" y1="1418.0" x2="2203.7" y2="1718.0" stroke-width="1.8"/>
<line x1="853.5" y1="1237.5" x2="926.8" y2="1237.5" stroke-width="2"/>
<line x1="853.5" y1="1237.5" x2="853.5" y2="1424.8" stroke-width="2"/>
<line x1="853.5" y1="1424.8" x2="1041.5" y2="1424.8" stroke-width="2"/>
<text x="1578.0" y="862.7" font-size="19.77" textLength="113.0" lengthAdjust="spacingAndGlyphs" style="stroke:#fff;stroke-width:0.38;">ROOF LINE</text>
<text x="1187.0" y="1280.8" font-size="32.99" textLength="92.8" lengthAdjust="spacingAndGlyphs" style="stroke:#fff;stroke-width:0.64;">MECH</text>
<text x="1454.0" y="1313.9" font-size="19.62" textLength="68.0" lengthAdjust="spacingAndGlyphs" style="stroke:#fff;stroke-width:0.38;">RIDGE</text>
<text x="1604.9" y="1374.8" font-size="19.77" textLength="162.3" lengthAdjust="spacingAndGlyphs" style="stroke:#fff;stroke-width:0.38;">3&quot; VTR, TYP (6)</text>
<text x="2271.0" y="849.6" font-size="27.03" textLength="276.0" lengthAdjust="spacingAndGlyphs" style="stroke:#fff;stroke-width:0.52;">PHENOLIC FOLD-UP</text>
<text x="2271.0" y="880.6" font-size="27.03" textLength="327.6" lengthAdjust="spacingAndGlyphs" style="stroke:#fff;stroke-width:0.52;">SHOWER BENCH, TYP 2</text>
<text x="525.2" y="1741.8" font-size="27.03" textLength="356.7" lengthAdjust="spacingAndGlyphs" style="stroke:#fff;stroke-width:0.52;">ROMTEC SHOWER BENCH</text>
<text x="525.2" y="1774.0" font-size="27.03" textLength="381.2" lengthAdjust="spacingAndGlyphs" style="stroke:#fff;stroke-width:0.52;">STEEL FRAME WITH CEDAR</text>
<text x="525.2" y="1806.0" font-size="27.03" textLength="191.1" lengthAdjust="spacingAndGlyphs" style="stroke:#fff;stroke-width:0.52;">SLATS, TYP 4</text>
<text x="525.2" y="1869.6" font-size="27.03" textLength="317.6" lengthAdjust="spacingAndGlyphs" style="stroke:#fff;stroke-width:0.52;">CONCRETE WALK, TYP</text>
<text x="525.2" y="1903.0" font-size="27.03" textLength="220.6" lengthAdjust="spacingAndGlyphs" style="stroke:#fff;stroke-width:0.52;">(BY INSTALLER)</text>
<path d="M908.4 1731 L1088.7 1731 L1272 1617" stroke-width="2" fill="none"/>
<path d="M1278 1613.5 L1264 1617.5 L1268 1624 Z" stroke-width="1" fill="#000"/>
<line x1="861.0" y1="1855.7" x2="1030.0" y2="1855.7" stroke-width="2"/>
<path d="M1039.5 1855.7 L1025 1852.5 L1025 1858.9 Z" stroke-width="1" fill="#000"/>
<path d="M745.4 1253.3 L814.5 1323.5 L745.4 1394.6 Z" fill="url(#hv)" stroke="#000" stroke-width="3.4" stroke-linejoin="miter"/>
<circle cx="743.8" cy="1323.7" r="40.0" stroke-width="4.2" fill="#fff"/>
<line x1="705.0" y1="1324.0" x2="783.8" y2="1324.0" stroke-width="4"/>
<text x="737.0" y="1318.8" font-size="25.00" textLength="20.3" lengthAdjust="spacingAndGlyphs" style="stroke:#fff;stroke-width:0.48;">D</text>
<text x="738.0" y="1347.9" font-size="25.73" textLength="14.7" lengthAdjust="spacingAndGlyphs" style="stroke:#fff;stroke-width:0.50;">2</text>
<path d="M1585 1881.5 L1657 1951 L1513 1951 Z" fill="url(#hh)" stroke="#000" stroke-width="3.4" stroke-linejoin="miter"/>
<circle cx="1585.0" cy="1951.0" r="40.5" stroke-width="4.2" fill="#fff"/>
<line x1="1545.0" y1="1951.0" x2="1625.0" y2="1951.0" stroke-width="4"/>
<text x="1576.0" y="1944.7" font-size="25.00" textLength="18.0" lengthAdjust="spacingAndGlyphs" style="stroke:#fff;stroke-width:0.48;">C</text>
<text x="1578.0" y="1974.5" font-size="25.73" textLength="14.7" lengthAdjust="spacingAndGlyphs" style="stroke:#fff;stroke-width:0.50;">2</text>
<circle cx="1063.5" cy="2038.4" r="47.6" stroke-width="3.2" fill="none"/>
<line x1="1111.0" y1="2038.4" x2="1960.8" y2="2038.4" stroke-width="5" stroke-linecap="round"/>
<path d="M1056 2026 L1066.5 2019 L1066.5 2061" stroke-width="2.8" fill="none"/>
<text x="1147.0" y="2020.0" font-size="52.03" textLength="350.6" lengthAdjust="spacingAndGlyphs" style="stroke:#fff;stroke-width:1.60;">FLOOR PLAN</text>
<text x="1147.0" y="2075.0" font-size="26.31" textLength="257.0" lengthAdjust="spacingAndGlyphs" style="stroke:#fff;stroke-width:0.51;">SCALE: 3/16&quot; = 1'-0&quot;</text>
<path d="M2120.7 1977.6 L2174.7 2031.6 L2120.7 2085.6 L2066.7 2031.6 Z" stroke-width="2.8" fill="none" stroke-linejoin="miter"/>
<path d="M2120.7 1984.6 L2167.7 2031.6 L2120.7 2078.6 L2073.7 2031.6 Z" stroke-width="1.2" fill="none"/>
<circle cx="2120.7" cy="1991.6" r="6.5" stroke-width="0" fill="#3a3a3a"/>
<circle cx="2160.7" cy="2031.6" r="6.5" stroke-width="0" fill="#3a3a3a"/>
<circle cx="2120.7" cy="2071.6" r="6.5" stroke-width="0" fill="#3a3a3a"/>
<circle cx="2080.7" cy="2031.6" r="6.5" stroke-width="0" fill="#3a3a3a"/>
<circle cx="2120.7" cy="2031.6" r="35.0" stroke-width="4" fill="#fff"/>
<line x1="2085.7" y1="2031.6" x2="2155.7" y2="2031.6" stroke-width="2.4"/>
<text x="2109.0" y="1958.0" font-size="33.87" textLength="26.7" lengthAdjust="spacingAndGlyphs" style="stroke:#fff;stroke-width:0.65;">A</text>
<text x="2110.0" y="2127.0" font-size="34.59" textLength="26.6" lengthAdjust="spacingAndGlyphs" style="stroke:#fff;stroke-width:0.67;">C</text>
<text x="2017.0" y="2044.5" font-size="34.59" textLength="28.7" lengthAdjust="spacingAndGlyphs" style="stroke:#fff;stroke-width:0.67;">D</text>
<text x="2193.0" y="2042.0" font-size="35.32" textLength="26.0" lengthAdjust="spacingAndGlyphs" style="stroke:#fff;stroke-width:0.68;">B</text>
</g></svg></body></html>
